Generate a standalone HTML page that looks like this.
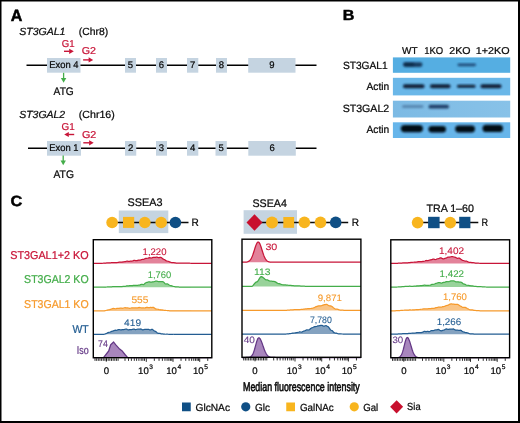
<!DOCTYPE html>
<html><head><meta charset="utf-8"><title>Figure</title>
<style>html,body{margin:0;padding:0;background:#fff;}body{width:520px;height:423px;overflow:hidden;font-family:"Liberation Sans", sans-serif;}svg{display:block;will-change:transform;}</style>
</head><body>
<svg width="520" height="423" viewBox="0 0 520 423" text-rendering="geometricPrecision" font-family='"Liberation Sans", sans-serif'><rect x="0" y="0" width="520" height="1.5" fill="#000"/>
<rect x="0" y="0" width="1.5" height="423" fill="#000"/>
<rect x="518" y="0" width="2" height="423" fill="#000"/>
<rect x="0" y="421" width="520" height="2" fill="#000"/>
<text x="10.80" y="20.80" font-size="16.2" fill="#000" font-weight="bold" font-style="normal" text-anchor="start" textLength="11.60" lengthAdjust="spacingAndGlyphs" stroke="#000" stroke-width="0.5">A</text>
<line x1="26.5" y1="65.2" x2="316.5" y2="65.2" stroke="#000" stroke-width="1.5"/>
<rect x="47" y="58.00" width="33.50" height="14.7" fill="#c5d4e1"/>
<text x="49.20" y="68.20" font-size="9.8" fill="#0a0a0a" font-weight="normal" font-style="normal" text-anchor="start" textLength="29.30" lengthAdjust="spacingAndGlyphs" stroke="#0a0a0a" stroke-width="0.24">Exon 4</text>
<rect x="125" y="58.00" width="11.00" height="14.7" fill="#c5d4e1"/>
<text x="130.50" y="68.30" font-size="9.5" fill="#0a0a0a" font-weight="normal" font-style="normal" text-anchor="middle" stroke="#0a0a0a" stroke-width="0.24">5</text>
<rect x="156" y="58.00" width="11.00" height="14.7" fill="#c5d4e1"/>
<text x="161.50" y="68.30" font-size="9.5" fill="#0a0a0a" font-weight="normal" font-style="normal" text-anchor="middle" stroke="#0a0a0a" stroke-width="0.24">6</text>
<rect x="187" y="58.00" width="11.30" height="14.7" fill="#c5d4e1"/>
<text x="192.65" y="68.30" font-size="9.5" fill="#0a0a0a" font-weight="normal" font-style="normal" text-anchor="middle" stroke="#0a0a0a" stroke-width="0.24">7</text>
<rect x="216" y="58.00" width="11.00" height="14.7" fill="#c5d4e1"/>
<text x="221.50" y="68.30" font-size="9.5" fill="#0a0a0a" font-weight="normal" font-style="normal" text-anchor="middle" stroke="#0a0a0a" stroke-width="0.24">8</text>
<rect x="248.2" y="58.00" width="47.30" height="14.7" fill="#c5d4e1"/>
<text x="271.85" y="68.30" font-size="9.5" fill="#0a0a0a" font-weight="normal" font-style="normal" text-anchor="middle" stroke="#0a0a0a" stroke-width="0.24">9</text>
<text x="19.20" y="34.70" font-size="10.4" fill="#0a0a0a" font-weight="normal" font-style="italic" text-anchor="start" textLength="46.20" lengthAdjust="spacingAndGlyphs" stroke="#0a0a0a" stroke-width="0.24">ST3GAL1</text>
<text x="78.80" y="34.70" font-size="10.4" fill="#0a0a0a" font-weight="normal" font-style="normal" text-anchor="start" textLength="29.30" lengthAdjust="spacingAndGlyphs" stroke="#0a0a0a" stroke-width="0.24">(Chr8)</text>
<line x1="28" y1="148.2" x2="316.5" y2="148.2" stroke="#000" stroke-width="1.5"/>
<rect x="47" y="141.00" width="34.00" height="14.7" fill="#c5d4e1"/>
<text x="49.20" y="151.20" font-size="9.8" fill="#0a0a0a" font-weight="normal" font-style="normal" text-anchor="start" textLength="29.30" lengthAdjust="spacingAndGlyphs" stroke="#0a0a0a" stroke-width="0.24">Exon 1</text>
<rect x="125" y="141.00" width="11.25" height="14.7" fill="#c5d4e1"/>
<text x="130.62" y="151.30" font-size="9.5" fill="#0a0a0a" font-weight="normal" font-style="normal" text-anchor="middle" stroke="#0a0a0a" stroke-width="0.24">2</text>
<rect x="156" y="141.00" width="11.00" height="14.7" fill="#c5d4e1"/>
<text x="161.50" y="151.30" font-size="9.5" fill="#0a0a0a" font-weight="normal" font-style="normal" text-anchor="middle" stroke="#0a0a0a" stroke-width="0.24">3</text>
<rect x="187" y="141.00" width="11.30" height="14.7" fill="#c5d4e1"/>
<text x="192.65" y="151.30" font-size="9.5" fill="#0a0a0a" font-weight="normal" font-style="normal" text-anchor="middle" stroke="#0a0a0a" stroke-width="0.24">4</text>
<rect x="215.5" y="141.00" width="11.30" height="14.7" fill="#c5d4e1"/>
<text x="221.15" y="151.30" font-size="9.5" fill="#0a0a0a" font-weight="normal" font-style="normal" text-anchor="middle" stroke="#0a0a0a" stroke-width="0.24">5</text>
<rect x="248.3" y="141.00" width="47.50" height="14.7" fill="#c5d4e1"/>
<text x="272.05" y="151.30" font-size="9.5" fill="#0a0a0a" font-weight="normal" font-style="normal" text-anchor="middle" stroke="#0a0a0a" stroke-width="0.24">6</text>
<text x="19.20" y="117.70" font-size="10.4" fill="#0a0a0a" font-weight="normal" font-style="italic" text-anchor="start" textLength="46.00" lengthAdjust="spacingAndGlyphs" stroke="#0a0a0a" stroke-width="0.24">ST3GAL2</text>
<text x="78.80" y="117.70" font-size="10.4" fill="#0a0a0a" font-weight="normal" font-style="normal" text-anchor="start" textLength="36.00" lengthAdjust="spacingAndGlyphs" stroke="#0a0a0a" stroke-width="0.24">(Chr16)</text>
<text x="61.70" y="46.50" font-size="10" fill="#c81538" font-weight="normal" font-style="normal" text-anchor="start" textLength="12.80" lengthAdjust="spacingAndGlyphs" stroke="#c81538" stroke-width="0.24">G1</text>
<line x1="64" y1="51.3" x2="69.70" y2="51.30" stroke="#c81538" stroke-width="1.4"/>
<polygon points="73.8,51.3 69.20,53.90 69.20,48.70" fill="#c81538"/>
<text x="81.70" y="54.20" font-size="10" fill="#c81538" font-weight="normal" font-style="normal" text-anchor="start" textLength="14.30" lengthAdjust="spacingAndGlyphs" stroke="#c81538" stroke-width="0.24">G2</text>
<line x1="83.1" y1="59.9" x2="89.10" y2="59.90" stroke="#c81538" stroke-width="1.4"/>
<polygon points="93.2,59.9 88.60,62.50 88.60,57.30" fill="#c81538"/>
<text x="61.60" y="129.70" font-size="10" fill="#c81538" font-weight="normal" font-style="normal" text-anchor="start" textLength="13.20" lengthAdjust="spacingAndGlyphs" stroke="#c81538" stroke-width="0.24">G1</text>
<line x1="74.2" y1="134.5" x2="68.30" y2="134.50" stroke="#c81538" stroke-width="1.4"/>
<polygon points="64.2,134.5 68.80,131.90 68.80,137.10" fill="#c81538"/>
<text x="81.90" y="137.80" font-size="10" fill="#c81538" font-weight="normal" font-style="normal" text-anchor="start" textLength="14.40" lengthAdjust="spacingAndGlyphs" stroke="#c81538" stroke-width="0.24">G2</text>
<line x1="83.3" y1="142.8" x2="89.60" y2="142.80" stroke="#c81538" stroke-width="1.4"/>
<polygon points="93.7,142.8 89.10,145.40 89.10,140.20" fill="#c81538"/>
<line x1="63.6" y1="72.8" x2="63.60" y2="78.50" stroke="#44ad4a" stroke-width="1.3"/>
<polygon points="63.6,82.8 60.90,78.00 66.30,78.00" fill="#44ad4a"/>
<text x="53.60" y="94.90" font-size="11" fill="#0a0a0a" font-weight="normal" font-style="normal" text-anchor="start" textLength="20.20" lengthAdjust="spacingAndGlyphs" stroke="#0a0a0a" stroke-width="0.24">ATG</text>
<line x1="63.2" y1="155.6" x2="63.20" y2="161.00" stroke="#44ad4a" stroke-width="1.3"/>
<polygon points="63.2,165.3 60.50,160.50 65.90,160.50" fill="#44ad4a"/>
<text x="53.50" y="178.20" font-size="11" fill="#0a0a0a" font-weight="normal" font-style="normal" text-anchor="start" textLength="20.40" lengthAdjust="spacingAndGlyphs" stroke="#0a0a0a" stroke-width="0.24">ATG</text>
<text x="342.80" y="20.40" font-size="14.6" fill="#000" font-weight="bold" font-style="normal" text-anchor="start" textLength="11.60" lengthAdjust="spacingAndGlyphs" stroke="#000" stroke-width="0.5">B</text>
<text x="402.00" y="53.50" font-size="10" fill="#0a0a0a" font-weight="normal" font-style="normal" text-anchor="start" textLength="15.50" lengthAdjust="spacingAndGlyphs" stroke="#0a0a0a" stroke-width="0.24">WT</text>
<text x="424.25" y="53.50" font-size="10" fill="#0a0a0a" font-weight="normal" font-style="normal" text-anchor="start" textLength="19.00" lengthAdjust="spacingAndGlyphs" stroke="#0a0a0a" stroke-width="0.24">1KO</text>
<text x="449.25" y="53.50" font-size="10" fill="#0a0a0a" font-weight="normal" font-style="normal" text-anchor="start" textLength="21.25" lengthAdjust="spacingAndGlyphs" stroke="#0a0a0a" stroke-width="0.24">2KO</text>
<text x="475.75" y="53.50" font-size="10" fill="#0a0a0a" font-weight="normal" font-style="normal" text-anchor="start" textLength="33.75" lengthAdjust="spacingAndGlyphs" stroke="#0a0a0a" stroke-width="0.24">1+2KO</text>
<text x="342.90" y="69.00" font-size="10.5" fill="#0a0a0a" font-weight="normal" font-style="normal" text-anchor="start" textLength="44.80" lengthAdjust="spacingAndGlyphs" stroke="#0a0a0a" stroke-width="0.24">ST3GAL1</text>
<text x="366.50" y="89.90" font-size="10.5" fill="#0a0a0a" font-weight="normal" font-style="normal" text-anchor="start" textLength="22.70" lengthAdjust="spacingAndGlyphs" stroke="#0a0a0a" stroke-width="0.24">Actin</text>
<text x="342.70" y="111.50" font-size="10.5" fill="#0a0a0a" font-weight="normal" font-style="normal" text-anchor="start" textLength="46.50" lengthAdjust="spacingAndGlyphs" stroke="#0a0a0a" stroke-width="0.24">ST3GAL2</text>
<text x="366.50" y="132.70" font-size="10.5" fill="#0a0a0a" font-weight="normal" font-style="normal" text-anchor="start" textLength="22.70" lengthAdjust="spacingAndGlyphs" stroke="#0a0a0a" stroke-width="0.24">Actin</text>
<defs><filter id="blur1" x="-20%" y="-50%" width="140%" height="200%"><feGaussianBlur stdDeviation="1.1"/></filter><filter id="blur2" x="-20%" y="-50%" width="140%" height="200%"><feGaussianBlur stdDeviation="0.8"/></filter><linearGradient id="g3" x1="0" x2="1" y1="0" y2="0"><stop offset="0" stop-color="#7cbae4"/><stop offset="0.45" stop-color="#82bee6"/><stop offset="1" stop-color="#88c2e8"/></linearGradient></defs>
<rect x="392.9" y="57.4" width="117.3" height="15.40" fill="#55aee2"/>
<rect x="392.9" y="77.8" width="117.3" height="17.60" fill="#6ab7e8"/>
<rect x="392.9" y="100.7" width="117.3" height="16.80" fill="url(#g3)"/>
<rect x="392.9" y="122.3" width="117.3" height="15.70" fill="#66b5ea"/>
<rect x="403.00" y="62.30" width="19.50" height="4.60" rx="2.30" fill="#102a4c" opacity="0.85" filter="url(#blur1)"/>
<rect x="404.00" y="63.00" width="10.00" height="2.80" rx="1.40" fill="#061a33" opacity="0.55" filter="url(#blur1)"/>
<rect x="457.50" y="63.40" width="18.50" height="2.80" rx="1.40" fill="#123460" opacity="0.8" filter="url(#blur1)"/>
<rect x="403.00" y="84.30" width="21.50" height="4.00" rx="2.00" fill="#08182e" opacity="0.95" filter="url(#blur2)"/>
<rect x="430.00" y="84.30" width="20.50" height="4.00" rx="2.00" fill="#08182e" opacity="0.95" filter="url(#blur2)"/>
<rect x="457.00" y="84.80" width="18.50" height="3.00" rx="1.50" fill="#08182e" opacity="0.95" filter="url(#blur2)"/>
<rect x="480.50" y="84.30" width="21.00" height="4.00" rx="2.00" fill="#08182e" opacity="0.95" filter="url(#blur2)"/>
<rect x="402.00" y="105.10" width="21.50" height="3.00" rx="1.50" fill="#3a5f88" opacity="0.55" filter="url(#blur1)"/>
<rect x="428.50" y="104.80" width="20.50" height="3.80" rx="1.90" fill="#0e2c52" opacity="0.85" filter="url(#blur1)"/>
<rect x="400.80" y="124.90" width="22.20" height="7.40" rx="3.70" fill="#040c18" opacity="1.0" filter="url(#blur2)"/>
<rect x="428.50" y="126.10" width="17.50" height="6.40" rx="3.20" fill="#040c18" opacity="1.0" filter="url(#blur2)"/>
<rect x="455.20" y="125.60" width="19.80" height="6.80" rx="3.40" fill="#040c18" opacity="1.0" filter="url(#blur2)"/>
<rect x="482.50" y="124.70" width="20.50" height="7.40" rx="3.70" fill="#040c18" opacity="1.0" filter="url(#blur2)"/>
<text x="10.50" y="206.30" font-size="14.8" fill="#000" font-weight="bold" font-style="normal" text-anchor="start" textLength="11.80" lengthAdjust="spacingAndGlyphs" stroke="#000" stroke-width="0.5">C</text>
<text x="127.50" y="206.20" font-size="11" fill="#0a0a0a" font-weight="normal" font-style="normal" text-anchor="start" textLength="35.00" lengthAdjust="spacingAndGlyphs" stroke="#0a0a0a" stroke-width="0.24">SSEA3</text>
<text x="252.50" y="207.10" font-size="11" fill="#0a0a0a" font-weight="normal" font-style="normal" text-anchor="start" textLength="34.40" lengthAdjust="spacingAndGlyphs" stroke="#0a0a0a" stroke-width="0.24">SSEA4</text>
<text x="426.40" y="212.10" font-size="10.8" fill="#0a0a0a" font-weight="normal" font-style="normal" text-anchor="start" textLength="47.60" lengthAdjust="spacingAndGlyphs" stroke="#0a0a0a" stroke-width="0.24">TRA 1&#8211;60</text>
<rect x="118.8" y="210.5" width="49.50" height="22.60" fill="#c5d4e1"/>
<line x1="112" y1="222.5" x2="188.5" y2="222.5" stroke="#0a0a0a" stroke-width="1.5"/>
<circle cx="112.1" cy="222.5" r="5.8" fill="#f8b51e"/>
<rect x="123" y="216.9" width="11.20" height="11.00" fill="#f8b51e"/>
<circle cx="144.8" cy="222.5" r="5.8" fill="#f8b51e"/>
<circle cx="161.2" cy="222.5" r="5.8" fill="#f8b51e"/>
<circle cx="175.4" cy="222.5" r="5.8" fill="#0f4f85"/>
<text x="191.60" y="226.10" font-size="10.6" fill="#0a0a0a" font-weight="normal" font-style="normal" text-anchor="start" textLength="7.30" lengthAdjust="spacingAndGlyphs" stroke="#0a0a0a" stroke-width="0.24">R</text>
<rect x="243.6" y="210.2" width="53.40" height="23.60" fill="#c5d4e1"/>
<line x1="254" y1="222.4" x2="348.2" y2="222.4" stroke="#0a0a0a" stroke-width="1.5"/>
<polygon points="246.5,222.5 254.5,214.2 262.5,222.5 254.5,230.8" fill="#c8102e"/>
<circle cx="272" cy="222.5" r="6" fill="#f8b51e"/>
<rect x="283.3" y="217" width="10.80" height="10.80" fill="#f8b51e"/>
<circle cx="304.4" cy="222.4" r="5.8" fill="#f8b51e"/>
<circle cx="320.5" cy="222.4" r="5.8" fill="#f8b51e"/>
<circle cx="335.7" cy="222.4" r="5.8" fill="#0f4f85"/>
<text x="351.80" y="226.00" font-size="10.6" fill="#0a0a0a" font-weight="normal" font-style="normal" text-anchor="start" textLength="7.30" lengthAdjust="spacingAndGlyphs" stroke="#0a0a0a" stroke-width="0.24">R</text>
<line x1="417" y1="222.6" x2="478.3" y2="222.6" stroke="#0a0a0a" stroke-width="1.5"/>
<circle cx="417.6" cy="222.6" r="5.8" fill="#f8b51e"/>
<rect x="428.1" y="216.8" width="11.50" height="11.40" fill="#0f4f85"/>
<circle cx="450.3" cy="222.6" r="5.8" fill="#f8b51e"/>
<rect x="459.2" y="216.8" width="11.20" height="11.40" fill="#0f4f85"/>
<text x="481.60" y="226.20" font-size="10.6" fill="#0a0a0a" font-weight="normal" font-style="normal" text-anchor="start" textLength="6.60" lengthAdjust="spacingAndGlyphs" stroke="#0a0a0a" stroke-width="0.24">R</text>
<text x="10.20" y="259.30" font-size="11.4" fill="#c81538" font-weight="normal" font-style="normal" text-anchor="start" textLength="78.40" lengthAdjust="spacingAndGlyphs" stroke="#c81538" stroke-width="0.24">ST3GAL1+2 KO</text>
<text x="24.10" y="283.20" font-size="11.4" fill="#44ad4a" font-weight="normal" font-style="normal" text-anchor="start" textLength="64.50" lengthAdjust="spacingAndGlyphs" stroke="#44ad4a" stroke-width="0.24">ST3GAL2 KO</text>
<text x="24.10" y="307.60" font-size="11.4" fill="#f69a2c" font-weight="normal" font-style="normal" text-anchor="start" textLength="64.50" lengthAdjust="spacingAndGlyphs" stroke="#f69a2c" stroke-width="0.24">ST3GAL1 KO</text>
<text x="72.40" y="333.20" font-size="11.4" fill="#235d92" font-weight="normal" font-style="normal" text-anchor="start" textLength="16.20" lengthAdjust="spacingAndGlyphs" stroke="#235d92" stroke-width="0.24">WT</text>
<text x="76.70" y="353.60" font-size="11.4" fill="#633785" font-weight="normal" font-style="normal" text-anchor="start" textLength="11.90" lengthAdjust="spacingAndGlyphs" stroke="#633785" stroke-width="0.24">Iso</text>
<path d="M93.30,263.40 L94.04,263.40 L94.78,263.40 L95.52,263.40 L96.26,263.40 L97.00,263.40 L97.74,263.40 L98.48,263.40 L99.22,263.39 L99.97,263.37 L100.71,263.35 L101.45,263.32 L102.19,263.28 L102.93,263.25 L103.67,263.19 L104.41,263.12 L105.15,263.05 L105.89,263.01 L106.63,262.98 L107.37,262.95 L108.11,262.90 L108.85,262.86 L109.59,262.84 L110.33,262.81 L111.08,262.74 L111.82,262.64 L112.56,262.58 L113.30,262.60 L114.04,262.64 L114.78,262.65 L115.52,262.62 L116.26,262.58 L117.00,262.55 L117.74,262.49 L118.48,262.36 L119.22,262.19 L119.96,262.08 L120.70,262.08 L121.44,262.11 L122.18,262.06 L122.93,261.93 L123.67,261.80 L124.41,261.73 L125.15,261.64 L125.89,261.46 L126.63,261.24 L127.37,261.17 L128.11,261.28 L128.85,261.41 L129.59,261.38 L130.33,261.23 L131.07,261.09 L131.81,261.01 L132.55,260.91 L133.29,260.70 L134.03,260.46 L134.78,260.40 L135.52,260.56 L136.26,260.70 L137.00,260.59 L137.74,260.30 L138.48,260.08 L139.22,260.04 L139.96,260.05 L140.70,259.90 L141.44,259.64 L142.18,259.49 L142.92,259.47 L143.66,259.38 L144.40,259.04 L145.14,258.59 L145.88,258.33 L146.62,258.31 L147.37,258.25 L148.11,258.04 L148.85,257.79 L149.59,257.73 L150.33,257.87 L151.07,258.00 L151.81,257.87 L152.55,257.55 L153.29,257.33 L154.03,257.32 L154.77,257.35 L155.51,257.28 L156.25,257.17 L156.99,257.22 L157.73,257.44 L158.48,257.64 L159.22,257.60 L159.96,257.44 L160.70,257.39 L161.44,257.61 L162.18,258.25 L162.92,258.91 L163.66,259.33 L164.40,259.55 L165.14,260.08 L165.88,260.66 L166.62,260.99 L167.36,261.17 L168.10,261.25 L168.84,261.49 L169.58,261.87 L170.32,262.20 L171.07,262.45 L171.81,262.60 L172.55,262.65 L173.29,262.70 L174.03,262.73 L174.77,262.80 L175.51,262.92 L176.25,263.06 L176.99,263.16 L177.73,263.21 L178.47,263.21 L179.21,263.21 L179.95,263.22 L180.69,263.22 L181.43,263.21 L182.18,263.19 L182.92,263.20 L183.66,263.22 L184.40,263.23 L185.14,263.24 L185.88,263.23 L186.62,263.23 L187.36,263.24 L188.10,263.24 L188.84,263.24 L189.58,263.23 L190.32,263.25 L191.06,263.27 L191.80,263.28 L192.54,263.29 L193.28,263.29 L194.03,263.29 L194.77,263.30 L195.51,263.31 L196.25,263.31 L196.99,263.31 L197.73,263.32 L198.47,263.33 L199.21,263.34 L199.95,263.35 L200.69,263.35 L201.43,263.35 L202.17,263.36 L202.91,263.36 L203.65,263.37 L204.39,263.37 L205.13,263.38 L205.88,263.38 L206.62,263.39 L207.36,263.39 L208.10,263.39 L208.84,263.40 L209.58,263.40 L210.32,263.40 L211.06,263.40 L211.80,263.40 L211.80,263.4 L93.30,263.4 Z" fill="#e3829a" stroke="none"/>
<path d="M93.30,263.40 L94.04,263.40 L94.78,263.40 L95.52,263.40 L96.26,263.40 L97.00,263.40 L97.74,263.40 L98.48,263.40 L99.22,263.39 L99.97,263.37 L100.71,263.35 L101.45,263.32 L102.19,263.28 L102.93,263.25 L103.67,263.19 L104.41,263.12 L105.15,263.05 L105.89,263.01 L106.63,262.98 L107.37,262.95 L108.11,262.90 L108.85,262.86 L109.59,262.84 L110.33,262.81 L111.08,262.74 L111.82,262.64 L112.56,262.58 L113.30,262.60 L114.04,262.64 L114.78,262.65 L115.52,262.62 L116.26,262.58 L117.00,262.55 L117.74,262.49 L118.48,262.36 L119.22,262.19 L119.96,262.08 L120.70,262.08 L121.44,262.11 L122.18,262.06 L122.93,261.93 L123.67,261.80 L124.41,261.73 L125.15,261.64 L125.89,261.46 L126.63,261.24 L127.37,261.17 L128.11,261.28 L128.85,261.41 L129.59,261.38 L130.33,261.23 L131.07,261.09 L131.81,261.01 L132.55,260.91 L133.29,260.70 L134.03,260.46 L134.78,260.40 L135.52,260.56 L136.26,260.70 L137.00,260.59 L137.74,260.30 L138.48,260.08 L139.22,260.04 L139.96,260.05 L140.70,259.90 L141.44,259.64 L142.18,259.49 L142.92,259.47 L143.66,259.38 L144.40,259.04 L145.14,258.59 L145.88,258.33 L146.62,258.31 L147.37,258.25 L148.11,258.04 L148.85,257.79 L149.59,257.73 L150.33,257.87 L151.07,258.00 L151.81,257.87 L152.55,257.55 L153.29,257.33 L154.03,257.32 L154.77,257.35 L155.51,257.28 L156.25,257.17 L156.99,257.22 L157.73,257.44 L158.48,257.64 L159.22,257.60 L159.96,257.44 L160.70,257.39 L161.44,257.61 L162.18,258.25 L162.92,258.91 L163.66,259.33 L164.40,259.55 L165.14,260.08 L165.88,260.66 L166.62,260.99 L167.36,261.17 L168.10,261.25 L168.84,261.49 L169.58,261.87 L170.32,262.20 L171.07,262.45 L171.81,262.60 L172.55,262.65 L173.29,262.70 L174.03,262.73 L174.77,262.80 L175.51,262.92 L176.25,263.06 L176.99,263.16 L177.73,263.21 L178.47,263.21 L179.21,263.21 L179.95,263.22 L180.69,263.22 L181.43,263.21 L182.18,263.19 L182.92,263.20 L183.66,263.22 L184.40,263.23 L185.14,263.24 L185.88,263.23 L186.62,263.23 L187.36,263.24 L188.10,263.24 L188.84,263.24 L189.58,263.23 L190.32,263.25 L191.06,263.27 L191.80,263.28 L192.54,263.29 L193.28,263.29 L194.03,263.29 L194.77,263.30 L195.51,263.31 L196.25,263.31 L196.99,263.31 L197.73,263.32 L198.47,263.33 L199.21,263.34 L199.95,263.35 L200.69,263.35 L201.43,263.35 L202.17,263.36 L202.91,263.36 L203.65,263.37 L204.39,263.37 L205.13,263.38 L205.88,263.38 L206.62,263.39 L207.36,263.39 L208.10,263.39 L208.84,263.40 L209.58,263.40 L210.32,263.40 L211.06,263.40 L211.80,263.40" fill="none" stroke="#c81538" stroke-width="1.25" stroke-linejoin="round"/>
<path d="M93.30,287.20 L94.04,287.20 L94.78,287.20 L95.52,287.20 L96.26,287.20 L97.00,287.20 L97.74,287.20 L98.48,287.20 L99.22,287.19 L99.97,287.18 L100.71,287.17 L101.45,287.16 L102.19,287.15 L102.93,287.13 L103.67,287.11 L104.41,287.08 L105.15,287.05 L105.89,287.02 L106.63,287.00 L107.37,286.96 L108.11,286.93 L108.85,286.91 L109.59,286.91 L110.33,286.90 L111.08,286.84 L111.82,286.77 L112.56,286.72 L113.30,286.70 L114.04,286.68 L114.78,286.64 L115.52,286.62 L116.26,286.64 L117.00,286.68 L117.74,286.69 L118.48,286.63 L119.22,286.58 L119.96,286.56 L120.70,286.59 L121.44,286.59 L122.18,286.54 L122.93,286.49 L123.67,286.47 L124.41,286.45 L125.15,286.37 L125.89,286.18 L126.63,285.97 L127.37,285.85 L128.11,285.82 L128.85,285.80 L129.59,285.71 L130.33,285.64 L131.07,285.66 L131.81,285.71 L132.55,285.64 L133.29,285.44 L134.03,285.26 L134.78,285.28 L135.52,285.42 L136.26,285.48 L137.00,285.40 L137.74,285.26 L138.48,285.20 L139.22,285.14 L139.96,284.92 L140.70,284.55 L141.44,284.26 L142.18,284.27 L142.92,284.50 L143.66,284.51 L144.40,284.02 L145.14,283.32 L145.88,282.77 L146.62,282.47 L147.37,282.32 L148.11,282.02 L148.85,281.80 L149.59,281.87 L150.33,282.10 L151.07,282.20 L151.81,282.06 L152.55,281.87 L153.29,281.78 L154.03,281.71 L154.77,281.50 L155.51,281.17 L156.25,281.00 L156.99,281.16 L157.73,281.49 L158.48,281.68 L159.22,281.63 L159.96,281.53 L160.70,281.57 L161.44,281.67 L162.18,281.64 L162.92,281.73 L163.66,282.16 L164.40,282.94 L165.14,283.71 L165.88,284.02 L166.62,283.89 L167.36,283.91 L168.10,284.27 L168.84,284.80 L169.58,285.24 L170.32,285.52 L171.07,285.65 L171.81,285.84 L172.55,286.13 L173.29,286.35 L174.03,286.49 L174.77,286.63 L175.51,286.76 L176.25,286.80 L176.99,286.83 L177.73,286.88 L178.47,286.95 L179.21,287.02 L179.95,287.08 L180.69,287.11 L181.43,287.10 L182.18,287.09 L182.92,287.09 L183.66,287.09 L184.40,287.10 L185.14,287.10 L185.88,287.10 L186.62,287.11 L187.36,287.12 L188.10,287.12 L188.84,287.12 L189.58,287.11 L190.32,287.12 L191.06,287.13 L191.80,287.13 L192.54,287.13 L193.28,287.14 L194.03,287.14 L194.77,287.15 L195.51,287.15 L196.25,287.15 L196.99,287.15 L197.73,287.15 L198.47,287.16 L199.21,287.16 L199.95,287.17 L200.69,287.17 L201.43,287.18 L202.17,287.18 L202.91,287.18 L203.65,287.18 L204.39,287.18 L205.13,287.19 L205.88,287.19 L206.62,287.19 L207.36,287.19 L208.10,287.20 L208.84,287.20 L209.58,287.20 L210.32,287.20 L211.06,287.20 L211.80,287.20 L211.80,287.2 L93.30,287.2 Z" fill="#98d39a" stroke="none"/>
<path d="M93.30,287.20 L94.04,287.20 L94.78,287.20 L95.52,287.20 L96.26,287.20 L97.00,287.20 L97.74,287.20 L98.48,287.20 L99.22,287.19 L99.97,287.18 L100.71,287.17 L101.45,287.16 L102.19,287.15 L102.93,287.13 L103.67,287.11 L104.41,287.08 L105.15,287.05 L105.89,287.02 L106.63,287.00 L107.37,286.96 L108.11,286.93 L108.85,286.91 L109.59,286.91 L110.33,286.90 L111.08,286.84 L111.82,286.77 L112.56,286.72 L113.30,286.70 L114.04,286.68 L114.78,286.64 L115.52,286.62 L116.26,286.64 L117.00,286.68 L117.74,286.69 L118.48,286.63 L119.22,286.58 L119.96,286.56 L120.70,286.59 L121.44,286.59 L122.18,286.54 L122.93,286.49 L123.67,286.47 L124.41,286.45 L125.15,286.37 L125.89,286.18 L126.63,285.97 L127.37,285.85 L128.11,285.82 L128.85,285.80 L129.59,285.71 L130.33,285.64 L131.07,285.66 L131.81,285.71 L132.55,285.64 L133.29,285.44 L134.03,285.26 L134.78,285.28 L135.52,285.42 L136.26,285.48 L137.00,285.40 L137.74,285.26 L138.48,285.20 L139.22,285.14 L139.96,284.92 L140.70,284.55 L141.44,284.26 L142.18,284.27 L142.92,284.50 L143.66,284.51 L144.40,284.02 L145.14,283.32 L145.88,282.77 L146.62,282.47 L147.37,282.32 L148.11,282.02 L148.85,281.80 L149.59,281.87 L150.33,282.10 L151.07,282.20 L151.81,282.06 L152.55,281.87 L153.29,281.78 L154.03,281.71 L154.77,281.50 L155.51,281.17 L156.25,281.00 L156.99,281.16 L157.73,281.49 L158.48,281.68 L159.22,281.63 L159.96,281.53 L160.70,281.57 L161.44,281.67 L162.18,281.64 L162.92,281.73 L163.66,282.16 L164.40,282.94 L165.14,283.71 L165.88,284.02 L166.62,283.89 L167.36,283.91 L168.10,284.27 L168.84,284.80 L169.58,285.24 L170.32,285.52 L171.07,285.65 L171.81,285.84 L172.55,286.13 L173.29,286.35 L174.03,286.49 L174.77,286.63 L175.51,286.76 L176.25,286.80 L176.99,286.83 L177.73,286.88 L178.47,286.95 L179.21,287.02 L179.95,287.08 L180.69,287.11 L181.43,287.10 L182.18,287.09 L182.92,287.09 L183.66,287.09 L184.40,287.10 L185.14,287.10 L185.88,287.10 L186.62,287.11 L187.36,287.12 L188.10,287.12 L188.84,287.12 L189.58,287.11 L190.32,287.12 L191.06,287.13 L191.80,287.13 L192.54,287.13 L193.28,287.14 L194.03,287.14 L194.77,287.15 L195.51,287.15 L196.25,287.15 L196.99,287.15 L197.73,287.15 L198.47,287.16 L199.21,287.16 L199.95,287.17 L200.69,287.17 L201.43,287.18 L202.17,287.18 L202.91,287.18 L203.65,287.18 L204.39,287.18 L205.13,287.19 L205.88,287.19 L206.62,287.19 L207.36,287.19 L208.10,287.20 L208.84,287.20 L209.58,287.20 L210.32,287.20 L211.06,287.20 L211.80,287.20" fill="none" stroke="#44ad4a" stroke-width="1.25" stroke-linejoin="round"/>
<path d="M93.30,310.90 L94.04,310.90 L94.78,310.90 L95.52,310.90 L96.26,310.90 L97.00,310.90 L97.74,310.90 L98.48,310.90 L99.22,310.90 L99.97,310.90 L100.71,310.90 L101.45,310.90 L102.19,310.90 L102.93,310.90 L103.67,310.90 L104.41,310.88 L105.15,310.73 L105.89,310.49 L106.63,310.24 L107.37,310.05 L108.11,309.89 L108.85,309.74 L109.59,309.59 L110.33,309.37 L111.08,309.13 L111.82,308.86 L112.56,308.57 L113.30,308.41 L114.04,308.52 L114.78,308.71 L115.52,308.76 L116.26,308.60 L117.00,308.38 L117.74,308.28 L118.48,308.28 L119.22,308.26 L119.96,308.15 L120.70,308.08 L121.44,308.14 L122.18,308.26 L122.93,308.22 L123.67,307.98 L124.41,307.75 L125.15,307.71 L125.89,307.84 L126.63,307.95 L127.37,307.96 L128.11,307.99 L128.85,308.13 L129.59,308.28 L130.33,308.25 L131.07,308.02 L131.81,307.78 L132.55,307.75 L133.29,307.88 L134.03,307.96 L134.78,307.92 L135.52,307.86 L136.26,307.91 L137.00,307.98 L137.74,307.90 L138.48,307.66 L139.22,307.47 L139.96,307.52 L140.70,307.74 L141.44,307.91 L142.18,307.93 L142.92,307.91 L143.66,307.96 L144.40,307.99 L145.14,307.85 L145.88,307.55 L146.62,307.32 L147.37,307.35 L148.11,307.54 L148.85,307.66 L149.59,307.60 L150.33,307.49 L151.07,307.48 L151.81,307.51 L152.55,307.43 L153.29,307.36 L154.03,307.68 L154.77,308.35 L155.51,308.95 L156.25,309.17 L156.99,309.20 L157.73,309.25 L158.48,309.41 L159.22,309.60 L159.96,309.74 L160.70,309.83 L161.44,309.91 L162.18,309.98 L162.92,310.11 L163.66,310.24 L164.40,310.34 L165.14,310.43 L165.88,310.48 L166.62,310.50 L167.36,310.55 L168.10,310.61 L168.84,310.70 L169.58,310.78 L170.32,310.84 L171.07,310.86 L171.81,310.85 L172.55,310.85 L173.29,310.85 L174.03,310.85 L174.77,310.85 L175.51,310.85 L176.25,310.85 L176.99,310.85 L177.73,310.86 L178.47,310.86 L179.21,310.86 L179.95,310.85 L180.69,310.85 L181.43,310.86 L182.18,310.86 L182.92,310.86 L183.66,310.86 L184.40,310.86 L185.14,310.87 L185.88,310.87 L186.62,310.87 L187.36,310.87 L188.10,310.87 L188.84,310.87 L189.58,310.87 L190.32,310.87 L191.06,310.87 L191.80,310.88 L192.54,310.88 L193.28,310.88 L194.03,310.88 L194.77,310.88 L195.51,310.88 L196.25,310.88 L196.99,310.89 L197.73,310.89 L198.47,310.89 L199.21,310.89 L199.95,310.89 L200.69,310.89 L201.43,310.89 L202.17,310.89 L202.91,310.89 L203.65,310.89 L204.39,310.90 L205.13,310.90 L205.88,310.90 L206.62,310.90 L207.36,310.90 L208.10,310.90 L208.84,310.90 L209.58,310.90 L210.32,310.90 L211.06,310.90 L211.80,310.90 L211.80,310.9 L93.30,310.9 Z" fill="#f9c486" stroke="none"/>
<path d="M93.30,310.90 L94.04,310.90 L94.78,310.90 L95.52,310.90 L96.26,310.90 L97.00,310.90 L97.74,310.90 L98.48,310.90 L99.22,310.90 L99.97,310.90 L100.71,310.90 L101.45,310.90 L102.19,310.90 L102.93,310.90 L103.67,310.90 L104.41,310.88 L105.15,310.73 L105.89,310.49 L106.63,310.24 L107.37,310.05 L108.11,309.89 L108.85,309.74 L109.59,309.59 L110.33,309.37 L111.08,309.13 L111.82,308.86 L112.56,308.57 L113.30,308.41 L114.04,308.52 L114.78,308.71 L115.52,308.76 L116.26,308.60 L117.00,308.38 L117.74,308.28 L118.48,308.28 L119.22,308.26 L119.96,308.15 L120.70,308.08 L121.44,308.14 L122.18,308.26 L122.93,308.22 L123.67,307.98 L124.41,307.75 L125.15,307.71 L125.89,307.84 L126.63,307.95 L127.37,307.96 L128.11,307.99 L128.85,308.13 L129.59,308.28 L130.33,308.25 L131.07,308.02 L131.81,307.78 L132.55,307.75 L133.29,307.88 L134.03,307.96 L134.78,307.92 L135.52,307.86 L136.26,307.91 L137.00,307.98 L137.74,307.90 L138.48,307.66 L139.22,307.47 L139.96,307.52 L140.70,307.74 L141.44,307.91 L142.18,307.93 L142.92,307.91 L143.66,307.96 L144.40,307.99 L145.14,307.85 L145.88,307.55 L146.62,307.32 L147.37,307.35 L148.11,307.54 L148.85,307.66 L149.59,307.60 L150.33,307.49 L151.07,307.48 L151.81,307.51 L152.55,307.43 L153.29,307.36 L154.03,307.68 L154.77,308.35 L155.51,308.95 L156.25,309.17 L156.99,309.20 L157.73,309.25 L158.48,309.41 L159.22,309.60 L159.96,309.74 L160.70,309.83 L161.44,309.91 L162.18,309.98 L162.92,310.11 L163.66,310.24 L164.40,310.34 L165.14,310.43 L165.88,310.48 L166.62,310.50 L167.36,310.55 L168.10,310.61 L168.84,310.70 L169.58,310.78 L170.32,310.84 L171.07,310.86 L171.81,310.85 L172.55,310.85 L173.29,310.85 L174.03,310.85 L174.77,310.85 L175.51,310.85 L176.25,310.85 L176.99,310.85 L177.73,310.86 L178.47,310.86 L179.21,310.86 L179.95,310.85 L180.69,310.85 L181.43,310.86 L182.18,310.86 L182.92,310.86 L183.66,310.86 L184.40,310.86 L185.14,310.87 L185.88,310.87 L186.62,310.87 L187.36,310.87 L188.10,310.87 L188.84,310.87 L189.58,310.87 L190.32,310.87 L191.06,310.87 L191.80,310.88 L192.54,310.88 L193.28,310.88 L194.03,310.88 L194.77,310.88 L195.51,310.88 L196.25,310.88 L196.99,310.89 L197.73,310.89 L198.47,310.89 L199.21,310.89 L199.95,310.89 L200.69,310.89 L201.43,310.89 L202.17,310.89 L202.91,310.89 L203.65,310.89 L204.39,310.90 L205.13,310.90 L205.88,310.90 L206.62,310.90 L207.36,310.90 L208.10,310.90 L208.84,310.90 L209.58,310.90 L210.32,310.90 L211.06,310.90 L211.80,310.90" fill="none" stroke="#f69a2c" stroke-width="1.25" stroke-linejoin="round"/>
<path d="M93.30,334.30 L94.04,334.30 L94.78,334.30 L95.52,334.30 L96.26,334.30 L97.00,334.30 L97.74,334.30 L98.48,334.30 L99.22,334.30 L99.97,334.30 L100.71,334.30 L101.45,334.30 L102.19,334.30 L102.93,334.30 L103.67,334.29 L104.41,334.16 L105.15,333.93 L105.89,333.66 L106.63,333.32 L107.37,332.94 L108.11,332.63 L108.85,332.45 L109.59,332.26 L110.33,332.00 L111.08,331.65 L111.82,331.29 L112.56,331.09 L113.30,330.93 L114.04,330.60 L114.78,330.27 L115.52,330.22 L116.26,330.32 L117.00,330.25 L117.74,329.93 L118.48,329.60 L119.22,329.53 L119.96,329.72 L120.70,329.88 L121.44,329.81 L122.18,329.61 L122.93,329.52 L123.67,329.54 L124.41,329.47 L125.15,329.24 L125.89,329.06 L126.63,329.18 L127.37,329.53 L128.11,329.81 L128.85,329.81 L129.59,329.65 L130.33,329.58 L131.07,329.59 L131.81,329.52 L132.55,329.27 L133.29,329.08 L134.03,329.16 L134.78,329.45 L135.52,329.62 L136.26,329.50 L137.00,329.25 L137.74,329.13 L138.48,329.16 L139.22,329.16 L139.96,329.04 L140.70,328.99 L141.44,329.21 L142.18,329.60 L142.92,329.82 L143.66,329.73 L144.40,329.49 L145.14,329.38 L145.88,329.44 L146.62,329.47 L147.37,329.37 L148.11,329.31 L148.85,329.48 L149.59,329.77 L150.33,329.88 L151.07,329.67 L151.81,329.37 L152.55,329.49 L153.29,330.13 L154.03,330.80 L154.77,331.15 L155.51,331.31 L156.25,331.93 L156.99,332.67 L157.73,333.18 L158.48,333.36 L159.22,333.31 L159.96,333.44 L160.70,333.67 L161.44,333.85 L162.18,333.90 L162.92,333.94 L163.66,334.03 L164.40,334.14 L165.14,334.21 L165.88,334.25 L166.62,334.24 L167.36,334.24 L168.10,334.25 L168.84,334.25 L169.58,334.25 L170.32,334.25 L171.07,334.26 L171.81,334.26 L172.55,334.26 L173.29,334.25 L174.03,334.25 L174.77,334.25 L175.51,334.25 L176.25,334.26 L176.99,334.26 L177.73,334.26 L178.47,334.26 L179.21,334.26 L179.95,334.26 L180.69,334.26 L181.43,334.26 L182.18,334.26 L182.92,334.27 L183.66,334.27 L184.40,334.27 L185.14,334.27 L185.88,334.27 L186.62,334.27 L187.36,334.27 L188.10,334.27 L188.84,334.27 L189.58,334.27 L190.32,334.28 L191.06,334.28 L191.80,334.28 L192.54,334.28 L193.28,334.28 L194.03,334.28 L194.77,334.28 L195.51,334.28 L196.25,334.28 L196.99,334.29 L197.73,334.29 L198.47,334.29 L199.21,334.29 L199.95,334.29 L200.69,334.29 L201.43,334.29 L202.17,334.29 L202.91,334.29 L203.65,334.30 L204.39,334.30 L205.13,334.30 L205.88,334.30 L206.62,334.30 L207.36,334.30 L208.10,334.30 L208.84,334.30 L209.58,334.30 L210.32,334.30 L211.06,334.30 L211.80,334.30 L211.80,334.3 L93.30,334.3 Z" fill="#84a2c0" stroke="none"/>
<path d="M93.30,334.30 L94.04,334.30 L94.78,334.30 L95.52,334.30 L96.26,334.30 L97.00,334.30 L97.74,334.30 L98.48,334.30 L99.22,334.30 L99.97,334.30 L100.71,334.30 L101.45,334.30 L102.19,334.30 L102.93,334.30 L103.67,334.29 L104.41,334.16 L105.15,333.93 L105.89,333.66 L106.63,333.32 L107.37,332.94 L108.11,332.63 L108.85,332.45 L109.59,332.26 L110.33,332.00 L111.08,331.65 L111.82,331.29 L112.56,331.09 L113.30,330.93 L114.04,330.60 L114.78,330.27 L115.52,330.22 L116.26,330.32 L117.00,330.25 L117.74,329.93 L118.48,329.60 L119.22,329.53 L119.96,329.72 L120.70,329.88 L121.44,329.81 L122.18,329.61 L122.93,329.52 L123.67,329.54 L124.41,329.47 L125.15,329.24 L125.89,329.06 L126.63,329.18 L127.37,329.53 L128.11,329.81 L128.85,329.81 L129.59,329.65 L130.33,329.58 L131.07,329.59 L131.81,329.52 L132.55,329.27 L133.29,329.08 L134.03,329.16 L134.78,329.45 L135.52,329.62 L136.26,329.50 L137.00,329.25 L137.74,329.13 L138.48,329.16 L139.22,329.16 L139.96,329.04 L140.70,328.99 L141.44,329.21 L142.18,329.60 L142.92,329.82 L143.66,329.73 L144.40,329.49 L145.14,329.38 L145.88,329.44 L146.62,329.47 L147.37,329.37 L148.11,329.31 L148.85,329.48 L149.59,329.77 L150.33,329.88 L151.07,329.67 L151.81,329.37 L152.55,329.49 L153.29,330.13 L154.03,330.80 L154.77,331.15 L155.51,331.31 L156.25,331.93 L156.99,332.67 L157.73,333.18 L158.48,333.36 L159.22,333.31 L159.96,333.44 L160.70,333.67 L161.44,333.85 L162.18,333.90 L162.92,333.94 L163.66,334.03 L164.40,334.14 L165.14,334.21 L165.88,334.25 L166.62,334.24 L167.36,334.24 L168.10,334.25 L168.84,334.25 L169.58,334.25 L170.32,334.25 L171.07,334.26 L171.81,334.26 L172.55,334.26 L173.29,334.25 L174.03,334.25 L174.77,334.25 L175.51,334.25 L176.25,334.26 L176.99,334.26 L177.73,334.26 L178.47,334.26 L179.21,334.26 L179.95,334.26 L180.69,334.26 L181.43,334.26 L182.18,334.26 L182.92,334.27 L183.66,334.27 L184.40,334.27 L185.14,334.27 L185.88,334.27 L186.62,334.27 L187.36,334.27 L188.10,334.27 L188.84,334.27 L189.58,334.27 L190.32,334.28 L191.06,334.28 L191.80,334.28 L192.54,334.28 L193.28,334.28 L194.03,334.28 L194.77,334.28 L195.51,334.28 L196.25,334.28 L196.99,334.29 L197.73,334.29 L198.47,334.29 L199.21,334.29 L199.95,334.29 L200.69,334.29 L201.43,334.29 L202.17,334.29 L202.91,334.29 L203.65,334.30 L204.39,334.30 L205.13,334.30 L205.88,334.30 L206.62,334.30 L207.36,334.30 L208.10,334.30 L208.84,334.30 L209.58,334.30 L210.32,334.30 L211.06,334.30 L211.80,334.30" fill="none" stroke="#235d92" stroke-width="1.25" stroke-linejoin="round"/>
<path d="M93.30,357.60 L103.50,357.60 L108.70,351.00 L110.70,344.70 L113.60,342.00 L115.60,344.70 L119.00,348.40 L122.50,351.30 L125.40,355.00 L127.70,357.60 L211.80,357.60 L211.80,357.6 L93.30,357.6 Z" fill="#a886bd" stroke="none"/>
<path d="M93.30,357.60 L103.50,357.60 L108.70,351.00 L110.70,344.70 L113.60,342.00 L115.60,344.70 L119.00,348.40 L122.50,351.30 L125.40,355.00 L127.70,357.60 L211.80,357.60" fill="none" stroke="#633785" stroke-width="1.25" stroke-linejoin="round"/>
<path d="M242.00,262.20 L242.50,262.20 L243.00,262.19 L243.50,262.19 L244.00,262.18 L244.50,262.17 L245.00,262.15 L245.50,262.12 L246.00,262.08 L246.50,262.02 L247.00,261.94 L247.50,261.82 L248.00,261.65 L248.50,261.42 L249.00,261.12 L249.50,260.73 L250.00,260.23 L250.50,259.61 L251.00,258.84 L251.50,257.93 L252.00,256.86 L252.50,255.64 L253.00,254.28 L253.50,252.80 L254.00,251.23 L254.50,249.63 L255.00,248.03 L255.50,246.51 L256.00,245.12 L256.50,243.92 L257.00,242.98 L257.50,242.34 L258.00,242.03 L258.50,242.06 L259.00,242.44 L259.50,243.15 L260.00,244.14 L260.50,245.38 L261.00,246.80 L261.50,248.35 L262.00,249.95 L262.50,251.55 L263.00,253.10 L263.50,254.56 L264.00,255.90 L264.50,257.09 L265.00,258.13 L265.50,259.01 L266.00,259.74 L266.50,260.34 L267.00,260.82 L267.50,261.19 L268.00,261.47 L268.50,261.69 L269.00,261.84 L269.50,261.96 L270.00,262.04 L270.50,262.09 L271.00,262.13 L271.50,262.16 L272.00,262.17 L272.50,262.18 L273.00,262.19 L273.50,262.19 L274.00,262.20 L274.50,262.20 L275.00,262.20 L275.50,262.20 L276.00,262.20 L276.50,262.20 L277.00,262.20 L277.50,262.20 L278.00,262.20 L278.50,262.20 L279.00,262.20 L279.50,262.20 L280.00,262.20 L280.50,262.20 L281.00,262.20 L281.50,262.20 L282.00,262.20 L282.50,262.20 L283.00,262.20 L283.50,262.20 L284.00,262.20 L284.50,262.20 L285.00,262.20 L285.50,262.20 L286.00,262.20 L286.50,262.20 L287.00,262.20 L287.50,262.20 L288.00,262.20 L288.50,262.20 L289.00,262.20 L289.50,262.20 L290.00,262.20 L290.50,262.20 L291.00,262.20 L291.50,262.20 L292.00,262.20 L292.50,262.20 L293.00,262.20 L293.50,262.20 L294.00,262.20 L294.50,262.20 L295.00,262.20 L295.50,262.20 L296.00,262.20 L296.50,262.20 L297.00,262.20 L297.50,262.20 L298.00,262.20 L298.50,262.20 L299.00,262.20 L299.50,262.20 L300.00,262.20 L300.50,262.20 L301.00,262.20 L301.50,262.20 L302.00,262.20 L302.50,262.20 L303.00,262.20 L303.50,262.20 L304.00,262.20 L304.50,262.20 L305.00,262.20 L305.50,262.20 L306.00,262.20 L306.50,262.20 L307.00,262.20 L307.50,262.20 L308.00,262.20 L308.50,262.20 L309.00,262.20 L309.50,262.20 L310.00,262.20 L310.50,262.20 L311.00,262.20 L311.50,262.20 L312.00,262.20 L312.50,262.20 L313.00,262.20 L313.50,262.20 L314.00,262.20 L314.50,262.20 L315.00,262.20 L315.50,262.20 L316.00,262.20 L316.50,262.20 L317.00,262.20 L317.50,262.20 L318.00,262.20 L318.50,262.20 L319.00,262.20 L319.50,262.20 L320.00,262.20 L320.50,262.20 L321.00,262.20 L321.50,262.20 L322.00,262.20 L322.50,262.20 L323.00,262.20 L323.50,262.20 L324.00,262.20 L324.50,262.20 L325.00,262.20 L325.50,262.20 L326.00,262.20 L326.50,262.20 L327.00,262.20 L327.50,262.20 L328.00,262.20 L328.50,262.20 L329.00,262.20 L329.50,262.20 L330.00,262.20 L330.50,262.20 L331.00,262.20 L331.50,262.20 L332.00,262.20 L332.50,262.20 L333.00,262.20 L333.50,262.20 L334.00,262.20 L334.50,262.20 L335.00,262.20 L335.50,262.20 L336.00,262.20 L336.50,262.20 L337.00,262.20 L337.50,262.20 L338.00,262.20 L338.50,262.20 L339.00,262.20 L339.50,262.20 L340.00,262.20 L340.50,262.20 L341.00,262.20 L341.50,262.20 L342.00,262.20 L342.50,262.20 L343.00,262.20 L343.50,262.20 L344.00,262.20 L344.50,262.20 L345.00,262.20 L345.50,262.20 L346.00,262.20 L346.50,262.20 L347.00,262.20 L347.50,262.20 L348.00,262.20 L348.50,262.20 L349.00,262.20 L349.50,262.20 L350.00,262.20 L350.50,262.20 L351.00,262.20 L351.50,262.20 L352.00,262.20 L352.50,262.20 L353.00,262.20 L353.50,262.20 L354.00,262.20 L354.50,262.20 L355.00,262.20 L355.50,262.20 L356.00,262.20 L356.50,262.20 L357.00,262.20 L357.50,262.20 L358.00,262.20 L358.50,262.20 L359.00,262.20 L359.50,262.20 L360.00,262.20 L360.90,262.20 L360.90,262.2 L242.00,262.2 Z" fill="#e3829a" stroke="none"/>
<path d="M242.00,262.20 L242.50,262.20 L243.00,262.19 L243.50,262.19 L244.00,262.18 L244.50,262.17 L245.00,262.15 L245.50,262.12 L246.00,262.08 L246.50,262.02 L247.00,261.94 L247.50,261.82 L248.00,261.65 L248.50,261.42 L249.00,261.12 L249.50,260.73 L250.00,260.23 L250.50,259.61 L251.00,258.84 L251.50,257.93 L252.00,256.86 L252.50,255.64 L253.00,254.28 L253.50,252.80 L254.00,251.23 L254.50,249.63 L255.00,248.03 L255.50,246.51 L256.00,245.12 L256.50,243.92 L257.00,242.98 L257.50,242.34 L258.00,242.03 L258.50,242.06 L259.00,242.44 L259.50,243.15 L260.00,244.14 L260.50,245.38 L261.00,246.80 L261.50,248.35 L262.00,249.95 L262.50,251.55 L263.00,253.10 L263.50,254.56 L264.00,255.90 L264.50,257.09 L265.00,258.13 L265.50,259.01 L266.00,259.74 L266.50,260.34 L267.00,260.82 L267.50,261.19 L268.00,261.47 L268.50,261.69 L269.00,261.84 L269.50,261.96 L270.00,262.04 L270.50,262.09 L271.00,262.13 L271.50,262.16 L272.00,262.17 L272.50,262.18 L273.00,262.19 L273.50,262.19 L274.00,262.20 L274.50,262.20 L275.00,262.20 L275.50,262.20 L276.00,262.20 L276.50,262.20 L277.00,262.20 L277.50,262.20 L278.00,262.20 L278.50,262.20 L279.00,262.20 L279.50,262.20 L280.00,262.20 L280.50,262.20 L281.00,262.20 L281.50,262.20 L282.00,262.20 L282.50,262.20 L283.00,262.20 L283.50,262.20 L284.00,262.20 L284.50,262.20 L285.00,262.20 L285.50,262.20 L286.00,262.20 L286.50,262.20 L287.00,262.20 L287.50,262.20 L288.00,262.20 L288.50,262.20 L289.00,262.20 L289.50,262.20 L290.00,262.20 L290.50,262.20 L291.00,262.20 L291.50,262.20 L292.00,262.20 L292.50,262.20 L293.00,262.20 L293.50,262.20 L294.00,262.20 L294.50,262.20 L295.00,262.20 L295.50,262.20 L296.00,262.20 L296.50,262.20 L297.00,262.20 L297.50,262.20 L298.00,262.20 L298.50,262.20 L299.00,262.20 L299.50,262.20 L300.00,262.20 L300.50,262.20 L301.00,262.20 L301.50,262.20 L302.00,262.20 L302.50,262.20 L303.00,262.20 L303.50,262.20 L304.00,262.20 L304.50,262.20 L305.00,262.20 L305.50,262.20 L306.00,262.20 L306.50,262.20 L307.00,262.20 L307.50,262.20 L308.00,262.20 L308.50,262.20 L309.00,262.20 L309.50,262.20 L310.00,262.20 L310.50,262.20 L311.00,262.20 L311.50,262.20 L312.00,262.20 L312.50,262.20 L313.00,262.20 L313.50,262.20 L314.00,262.20 L314.50,262.20 L315.00,262.20 L315.50,262.20 L316.00,262.20 L316.50,262.20 L317.00,262.20 L317.50,262.20 L318.00,262.20 L318.50,262.20 L319.00,262.20 L319.50,262.20 L320.00,262.20 L320.50,262.20 L321.00,262.20 L321.50,262.20 L322.00,262.20 L322.50,262.20 L323.00,262.20 L323.50,262.20 L324.00,262.20 L324.50,262.20 L325.00,262.20 L325.50,262.20 L326.00,262.20 L326.50,262.20 L327.00,262.20 L327.50,262.20 L328.00,262.20 L328.50,262.20 L329.00,262.20 L329.50,262.20 L330.00,262.20 L330.50,262.20 L331.00,262.20 L331.50,262.20 L332.00,262.20 L332.50,262.20 L333.00,262.20 L333.50,262.20 L334.00,262.20 L334.50,262.20 L335.00,262.20 L335.50,262.20 L336.00,262.20 L336.50,262.20 L337.00,262.20 L337.50,262.20 L338.00,262.20 L338.50,262.20 L339.00,262.20 L339.50,262.20 L340.00,262.20 L340.50,262.20 L341.00,262.20 L341.50,262.20 L342.00,262.20 L342.50,262.20 L343.00,262.20 L343.50,262.20 L344.00,262.20 L344.50,262.20 L345.00,262.20 L345.50,262.20 L346.00,262.20 L346.50,262.20 L347.00,262.20 L347.50,262.20 L348.00,262.20 L348.50,262.20 L349.00,262.20 L349.50,262.20 L350.00,262.20 L350.50,262.20 L351.00,262.20 L351.50,262.20 L352.00,262.20 L352.50,262.20 L353.00,262.20 L353.50,262.20 L354.00,262.20 L354.50,262.20 L355.00,262.20 L355.50,262.20 L356.00,262.20 L356.50,262.20 L357.00,262.20 L357.50,262.20 L358.00,262.20 L358.50,262.20 L359.00,262.20 L359.50,262.20 L360.00,262.20 L360.90,262.20" fill="none" stroke="#c81538" stroke-width="1.25" stroke-linejoin="round"/>
<path d="M242.00,286.40 L242.74,286.40 L243.49,286.40 L244.23,286.40 L244.97,286.40 L245.72,286.40 L246.46,286.40 L247.20,286.40 L247.94,286.40 L248.69,286.40 L249.43,286.40 L250.17,286.40 L250.92,286.40 L251.66,286.39 L252.40,286.06 L253.15,285.35 L253.89,284.44 L254.63,283.51 L255.38,282.67 L256.12,282.08 L256.86,281.90 L257.61,281.38 L258.35,280.42 L259.09,279.17 L259.83,277.88 L260.58,276.93 L261.32,276.66 L262.06,276.90 L262.81,277.35 L263.55,277.91 L264.29,278.56 L265.04,279.24 L265.78,279.78 L266.52,279.96 L267.27,279.96 L268.01,280.18 L268.75,280.58 L269.50,280.99 L270.24,281.21 L270.98,281.20 L271.73,281.22 L272.47,281.32 L273.21,281.41 L273.95,281.44 L274.70,281.57 L275.44,281.88 L276.18,282.37 L276.93,282.90 L277.67,283.33 L278.41,283.57 L279.16,283.65 L279.90,283.86 L280.64,284.15 L281.39,284.40 L282.13,284.59 L282.87,284.76 L283.62,284.84 L284.36,284.88 L285.10,284.93 L285.84,284.97 L286.59,285.03 L287.33,285.13 L288.07,285.22 L288.82,285.27 L289.56,285.31 L290.30,285.38 L291.05,285.48 L291.79,285.59 L292.53,285.67 L293.28,285.72 L294.02,285.76 L294.76,285.80 L295.50,285.82 L296.25,285.80 L296.99,285.79 L297.73,285.81 L298.48,285.86 L299.22,285.92 L299.96,285.97 L300.71,286.02 L301.45,286.07 L302.19,286.12 L302.94,286.17 L303.68,286.21 L304.42,286.24 L305.17,286.27 L305.91,286.29 L306.65,286.30 L307.39,286.30 L308.14,286.30 L308.88,286.30 L309.62,286.30 L310.37,286.30 L311.11,286.30 L311.85,286.30 L312.60,286.30 L313.34,286.30 L314.08,286.31 L314.83,286.31 L315.57,286.31 L316.31,286.31 L317.06,286.31 L317.80,286.31 L318.54,286.31 L319.28,286.31 L320.03,286.31 L320.77,286.32 L321.51,286.32 L322.26,286.32 L323.00,286.32 L323.74,286.32 L324.49,286.32 L325.23,286.33 L325.97,286.33 L326.72,286.33 L327.46,286.33 L328.20,286.34 L328.95,286.34 L329.69,286.34 L330.43,286.34 L331.17,286.34 L331.92,286.34 L332.66,286.35 L333.40,286.35 L334.15,286.35 L334.89,286.35 L335.63,286.36 L336.38,286.36 L337.12,286.36 L337.86,286.36 L338.61,286.36 L339.35,286.36 L340.09,286.37 L340.84,286.37 L341.58,286.37 L342.32,286.37 L343.06,286.38 L343.81,286.38 L344.55,286.38 L345.29,286.38 L346.04,286.38 L346.78,286.38 L347.52,286.39 L348.27,286.39 L349.01,286.39 L349.75,286.39 L350.50,286.39 L351.24,286.39 L351.98,286.39 L352.73,286.39 L353.47,286.39 L354.21,286.40 L354.95,286.40 L355.70,286.40 L356.44,286.40 L357.18,286.40 L357.93,286.40 L358.67,286.40 L359.41,286.40 L360.16,286.40 L360.90,286.40 L360.90,286.4 L242.00,286.4 Z" fill="#98d39a" stroke="none"/>
<path d="M242.00,286.40 L242.74,286.40 L243.49,286.40 L244.23,286.40 L244.97,286.40 L245.72,286.40 L246.46,286.40 L247.20,286.40 L247.94,286.40 L248.69,286.40 L249.43,286.40 L250.17,286.40 L250.92,286.40 L251.66,286.39 L252.40,286.06 L253.15,285.35 L253.89,284.44 L254.63,283.51 L255.38,282.67 L256.12,282.08 L256.86,281.90 L257.61,281.38 L258.35,280.42 L259.09,279.17 L259.83,277.88 L260.58,276.93 L261.32,276.66 L262.06,276.90 L262.81,277.35 L263.55,277.91 L264.29,278.56 L265.04,279.24 L265.78,279.78 L266.52,279.96 L267.27,279.96 L268.01,280.18 L268.75,280.58 L269.50,280.99 L270.24,281.21 L270.98,281.20 L271.73,281.22 L272.47,281.32 L273.21,281.41 L273.95,281.44 L274.70,281.57 L275.44,281.88 L276.18,282.37 L276.93,282.90 L277.67,283.33 L278.41,283.57 L279.16,283.65 L279.90,283.86 L280.64,284.15 L281.39,284.40 L282.13,284.59 L282.87,284.76 L283.62,284.84 L284.36,284.88 L285.10,284.93 L285.84,284.97 L286.59,285.03 L287.33,285.13 L288.07,285.22 L288.82,285.27 L289.56,285.31 L290.30,285.38 L291.05,285.48 L291.79,285.59 L292.53,285.67 L293.28,285.72 L294.02,285.76 L294.76,285.80 L295.50,285.82 L296.25,285.80 L296.99,285.79 L297.73,285.81 L298.48,285.86 L299.22,285.92 L299.96,285.97 L300.71,286.02 L301.45,286.07 L302.19,286.12 L302.94,286.17 L303.68,286.21 L304.42,286.24 L305.17,286.27 L305.91,286.29 L306.65,286.30 L307.39,286.30 L308.14,286.30 L308.88,286.30 L309.62,286.30 L310.37,286.30 L311.11,286.30 L311.85,286.30 L312.60,286.30 L313.34,286.30 L314.08,286.31 L314.83,286.31 L315.57,286.31 L316.31,286.31 L317.06,286.31 L317.80,286.31 L318.54,286.31 L319.28,286.31 L320.03,286.31 L320.77,286.32 L321.51,286.32 L322.26,286.32 L323.00,286.32 L323.74,286.32 L324.49,286.32 L325.23,286.33 L325.97,286.33 L326.72,286.33 L327.46,286.33 L328.20,286.34 L328.95,286.34 L329.69,286.34 L330.43,286.34 L331.17,286.34 L331.92,286.34 L332.66,286.35 L333.40,286.35 L334.15,286.35 L334.89,286.35 L335.63,286.36 L336.38,286.36 L337.12,286.36 L337.86,286.36 L338.61,286.36 L339.35,286.36 L340.09,286.37 L340.84,286.37 L341.58,286.37 L342.32,286.37 L343.06,286.38 L343.81,286.38 L344.55,286.38 L345.29,286.38 L346.04,286.38 L346.78,286.38 L347.52,286.39 L348.27,286.39 L349.01,286.39 L349.75,286.39 L350.50,286.39 L351.24,286.39 L351.98,286.39 L352.73,286.39 L353.47,286.39 L354.21,286.40 L354.95,286.40 L355.70,286.40 L356.44,286.40 L357.18,286.40 L357.93,286.40 L358.67,286.40 L359.41,286.40 L360.16,286.40 L360.90,286.40" fill="none" stroke="#44ad4a" stroke-width="1.25" stroke-linejoin="round"/>
<path d="M242.00,310.40 L242.74,310.40 L243.49,310.40 L244.23,310.40 L244.97,310.40 L245.72,310.40 L246.46,310.40 L247.20,310.40 L247.94,310.40 L248.69,310.40 L249.43,310.40 L250.17,310.40 L250.92,310.40 L251.66,310.40 L252.40,310.40 L253.15,310.40 L253.89,310.40 L254.63,310.40 L255.38,310.40 L256.12,310.40 L256.86,310.40 L257.61,310.40 L258.35,310.40 L259.09,310.40 L259.83,310.40 L260.58,310.40 L261.32,310.40 L262.06,310.40 L262.81,310.40 L263.55,310.40 L264.29,310.40 L265.04,310.40 L265.78,310.40 L266.52,310.40 L267.27,310.40 L268.01,310.40 L268.75,310.40 L269.50,310.40 L270.24,310.40 L270.98,310.40 L271.73,310.40 L272.47,310.40 L273.21,310.40 L273.95,310.40 L274.70,310.40 L275.44,310.40 L276.18,310.40 L276.93,310.40 L277.67,310.40 L278.41,310.40 L279.16,310.40 L279.90,310.40 L280.64,310.40 L281.39,310.40 L282.13,310.40 L282.87,310.39 L283.62,310.38 L284.36,310.36 L285.10,310.33 L285.84,310.30 L286.59,310.26 L287.33,310.21 L288.07,310.16 L288.82,310.10 L289.56,310.04 L290.30,309.99 L291.05,309.94 L291.79,309.90 L292.53,309.85 L293.28,309.79 L294.02,309.73 L294.76,309.69 L295.50,309.65 L296.25,309.59 L296.99,309.55 L297.73,309.53 L298.48,309.54 L299.22,309.54 L299.96,309.52 L300.71,309.49 L301.45,309.44 L302.19,309.37 L302.94,309.29 L303.68,309.17 L304.42,309.06 L305.17,308.97 L305.91,308.91 L306.65,308.83 L307.39,308.73 L308.14,308.61 L308.88,308.54 L309.62,308.51 L310.37,308.50 L311.11,308.44 L311.85,308.30 L312.60,308.14 L313.34,307.95 L314.08,307.68 L314.83,307.32 L315.57,306.92 L316.31,306.59 L317.06,306.33 L317.80,306.11 L318.54,305.91 L319.28,305.79 L320.03,305.81 L320.77,305.82 L321.51,305.69 L322.26,305.43 L323.00,305.12 L323.74,304.88 L324.49,304.70 L325.23,304.55 L325.97,304.43 L326.72,304.45 L327.46,304.76 L328.20,305.24 L328.95,305.65 L329.69,305.84 L330.43,305.84 L331.17,306.08 L331.92,306.54 L332.66,307.09 L333.40,307.66 L334.15,308.21 L334.89,308.71 L335.63,309.08 L336.38,309.22 L337.12,309.24 L337.86,309.37 L338.61,309.60 L339.35,309.83 L340.09,310.01 L340.84,310.10 L341.58,310.11 L342.32,310.15 L343.06,310.21 L343.81,310.28 L344.55,310.34 L345.29,310.38 L346.04,310.40 L346.78,310.40 L347.52,310.40 L348.27,310.40 L349.01,310.40 L349.75,310.40 L350.50,310.40 L351.24,310.40 L351.98,310.40 L352.73,310.40 L353.47,310.40 L354.21,310.40 L354.95,310.40 L355.70,310.40 L356.44,310.40 L357.18,310.40 L357.93,310.40 L358.67,310.40 L359.41,310.40 L360.16,310.40 L360.90,310.40 L360.90,310.4 L242.00,310.4 Z" fill="#f9c486" stroke="none"/>
<path d="M242.00,310.40 L242.74,310.40 L243.49,310.40 L244.23,310.40 L244.97,310.40 L245.72,310.40 L246.46,310.40 L247.20,310.40 L247.94,310.40 L248.69,310.40 L249.43,310.40 L250.17,310.40 L250.92,310.40 L251.66,310.40 L252.40,310.40 L253.15,310.40 L253.89,310.40 L254.63,310.40 L255.38,310.40 L256.12,310.40 L256.86,310.40 L257.61,310.40 L258.35,310.40 L259.09,310.40 L259.83,310.40 L260.58,310.40 L261.32,310.40 L262.06,310.40 L262.81,310.40 L263.55,310.40 L264.29,310.40 L265.04,310.40 L265.78,310.40 L266.52,310.40 L267.27,310.40 L268.01,310.40 L268.75,310.40 L269.50,310.40 L270.24,310.40 L270.98,310.40 L271.73,310.40 L272.47,310.40 L273.21,310.40 L273.95,310.40 L274.70,310.40 L275.44,310.40 L276.18,310.40 L276.93,310.40 L277.67,310.40 L278.41,310.40 L279.16,310.40 L279.90,310.40 L280.64,310.40 L281.39,310.40 L282.13,310.40 L282.87,310.39 L283.62,310.38 L284.36,310.36 L285.10,310.33 L285.84,310.30 L286.59,310.26 L287.33,310.21 L288.07,310.16 L288.82,310.10 L289.56,310.04 L290.30,309.99 L291.05,309.94 L291.79,309.90 L292.53,309.85 L293.28,309.79 L294.02,309.73 L294.76,309.69 L295.50,309.65 L296.25,309.59 L296.99,309.55 L297.73,309.53 L298.48,309.54 L299.22,309.54 L299.96,309.52 L300.71,309.49 L301.45,309.44 L302.19,309.37 L302.94,309.29 L303.68,309.17 L304.42,309.06 L305.17,308.97 L305.91,308.91 L306.65,308.83 L307.39,308.73 L308.14,308.61 L308.88,308.54 L309.62,308.51 L310.37,308.50 L311.11,308.44 L311.85,308.30 L312.60,308.14 L313.34,307.95 L314.08,307.68 L314.83,307.32 L315.57,306.92 L316.31,306.59 L317.06,306.33 L317.80,306.11 L318.54,305.91 L319.28,305.79 L320.03,305.81 L320.77,305.82 L321.51,305.69 L322.26,305.43 L323.00,305.12 L323.74,304.88 L324.49,304.70 L325.23,304.55 L325.97,304.43 L326.72,304.45 L327.46,304.76 L328.20,305.24 L328.95,305.65 L329.69,305.84 L330.43,305.84 L331.17,306.08 L331.92,306.54 L332.66,307.09 L333.40,307.66 L334.15,308.21 L334.89,308.71 L335.63,309.08 L336.38,309.22 L337.12,309.24 L337.86,309.37 L338.61,309.60 L339.35,309.83 L340.09,310.01 L340.84,310.10 L341.58,310.11 L342.32,310.15 L343.06,310.21 L343.81,310.28 L344.55,310.34 L345.29,310.38 L346.04,310.40 L346.78,310.40 L347.52,310.40 L348.27,310.40 L349.01,310.40 L349.75,310.40 L350.50,310.40 L351.24,310.40 L351.98,310.40 L352.73,310.40 L353.47,310.40 L354.21,310.40 L354.95,310.40 L355.70,310.40 L356.44,310.40 L357.18,310.40 L357.93,310.40 L358.67,310.40 L359.41,310.40 L360.16,310.40 L360.90,310.40" fill="none" stroke="#f69a2c" stroke-width="1.25" stroke-linejoin="round"/>
<path d="M242.00,334.00 L242.74,334.00 L243.49,334.00 L244.23,334.00 L244.97,334.00 L245.72,334.00 L246.46,334.00 L247.20,334.00 L247.94,334.00 L248.69,334.00 L249.43,334.00 L250.17,334.00 L250.92,334.00 L251.66,334.00 L252.40,334.00 L253.15,334.00 L253.89,334.00 L254.63,334.00 L255.38,334.00 L256.12,334.00 L256.86,334.00 L257.61,334.00 L258.35,334.00 L259.09,334.00 L259.83,334.00 L260.58,334.00 L261.32,334.00 L262.06,334.00 L262.81,334.00 L263.55,334.00 L264.29,334.00 L265.04,334.00 L265.78,334.00 L266.52,334.00 L267.27,334.00 L268.01,334.00 L268.75,334.00 L269.50,334.00 L270.24,334.00 L270.98,334.00 L271.73,334.00 L272.47,334.00 L273.21,334.00 L273.95,334.00 L274.70,334.00 L275.44,334.00 L276.18,334.00 L276.93,334.00 L277.67,334.00 L278.41,334.00 L279.16,334.00 L279.90,334.00 L280.64,334.00 L281.39,334.00 L282.13,334.00 L282.87,334.00 L283.62,334.00 L284.36,334.00 L285.10,334.00 L285.84,334.00 L286.59,333.99 L287.33,333.95 L288.07,333.89 L288.82,333.81 L289.56,333.73 L290.30,333.64 L291.05,333.49 L291.79,333.29 L292.53,333.11 L293.28,333.03 L294.02,333.00 L294.76,332.92 L295.50,332.77 L296.25,332.64 L296.99,332.58 L297.73,332.48 L298.48,332.24 L299.22,331.97 L299.96,331.88 L300.71,332.00 L301.45,332.05 L302.19,331.87 L302.94,331.50 L303.68,331.14 L304.42,330.91 L305.17,330.65 L305.91,330.25 L306.65,329.90 L307.39,329.89 L308.14,330.00 L308.88,329.95 L309.62,329.51 L310.37,328.81 L311.11,328.19 L311.85,327.80 L312.60,327.52 L313.34,327.22 L314.08,326.80 L314.83,326.55 L315.57,326.53 L316.31,326.49 L317.06,326.22 L317.80,325.92 L318.54,325.76 L319.28,325.74 L320.03,325.68 L320.77,325.47 L321.51,325.31 L322.26,325.46 L323.00,325.86 L323.74,326.13 L324.49,326.04 L325.23,325.73 L325.97,325.53 L326.72,326.03 L327.46,326.31 L328.20,326.76 L328.95,327.57 L329.69,328.70 L330.43,329.80 L331.17,330.25 L331.92,330.52 L332.66,331.10 L333.40,332.02 L334.15,332.76 L334.89,332.93 L335.63,333.03 L336.38,333.21 L337.12,333.46 L337.86,333.68 L338.61,333.80 L339.35,333.81 L340.09,333.84 L340.84,333.92 L341.58,333.99 L342.32,334.00 L343.06,334.00 L343.81,334.00 L344.55,334.00 L345.29,334.00 L346.04,334.00 L346.78,334.00 L347.52,334.00 L348.27,334.00 L349.01,334.00 L349.75,334.00 L350.50,334.00 L351.24,334.00 L351.98,334.00 L352.73,334.00 L353.47,334.00 L354.21,334.00 L354.95,334.00 L355.70,334.00 L356.44,334.00 L357.18,334.00 L357.93,334.00 L358.67,334.00 L359.41,334.00 L360.16,334.00 L360.90,334.00 L360.90,334.0 L242.00,334.0 Z" fill="#84a2c0" stroke="none"/>
<path d="M242.00,334.00 L242.74,334.00 L243.49,334.00 L244.23,334.00 L244.97,334.00 L245.72,334.00 L246.46,334.00 L247.20,334.00 L247.94,334.00 L248.69,334.00 L249.43,334.00 L250.17,334.00 L250.92,334.00 L251.66,334.00 L252.40,334.00 L253.15,334.00 L253.89,334.00 L254.63,334.00 L255.38,334.00 L256.12,334.00 L256.86,334.00 L257.61,334.00 L258.35,334.00 L259.09,334.00 L259.83,334.00 L260.58,334.00 L261.32,334.00 L262.06,334.00 L262.81,334.00 L263.55,334.00 L264.29,334.00 L265.04,334.00 L265.78,334.00 L266.52,334.00 L267.27,334.00 L268.01,334.00 L268.75,334.00 L269.50,334.00 L270.24,334.00 L270.98,334.00 L271.73,334.00 L272.47,334.00 L273.21,334.00 L273.95,334.00 L274.70,334.00 L275.44,334.00 L276.18,334.00 L276.93,334.00 L277.67,334.00 L278.41,334.00 L279.16,334.00 L279.90,334.00 L280.64,334.00 L281.39,334.00 L282.13,334.00 L282.87,334.00 L283.62,334.00 L284.36,334.00 L285.10,334.00 L285.84,334.00 L286.59,333.99 L287.33,333.95 L288.07,333.89 L288.82,333.81 L289.56,333.73 L290.30,333.64 L291.05,333.49 L291.79,333.29 L292.53,333.11 L293.28,333.03 L294.02,333.00 L294.76,332.92 L295.50,332.77 L296.25,332.64 L296.99,332.58 L297.73,332.48 L298.48,332.24 L299.22,331.97 L299.96,331.88 L300.71,332.00 L301.45,332.05 L302.19,331.87 L302.94,331.50 L303.68,331.14 L304.42,330.91 L305.17,330.65 L305.91,330.25 L306.65,329.90 L307.39,329.89 L308.14,330.00 L308.88,329.95 L309.62,329.51 L310.37,328.81 L311.11,328.19 L311.85,327.80 L312.60,327.52 L313.34,327.22 L314.08,326.80 L314.83,326.55 L315.57,326.53 L316.31,326.49 L317.06,326.22 L317.80,325.92 L318.54,325.76 L319.28,325.74 L320.03,325.68 L320.77,325.47 L321.51,325.31 L322.26,325.46 L323.00,325.86 L323.74,326.13 L324.49,326.04 L325.23,325.73 L325.97,325.53 L326.72,326.03 L327.46,326.31 L328.20,326.76 L328.95,327.57 L329.69,328.70 L330.43,329.80 L331.17,330.25 L331.92,330.52 L332.66,331.10 L333.40,332.02 L334.15,332.76 L334.89,332.93 L335.63,333.03 L336.38,333.21 L337.12,333.46 L337.86,333.68 L338.61,333.80 L339.35,333.81 L340.09,333.84 L340.84,333.92 L341.58,333.99 L342.32,334.00 L343.06,334.00 L343.81,334.00 L344.55,334.00 L345.29,334.00 L346.04,334.00 L346.78,334.00 L347.52,334.00 L348.27,334.00 L349.01,334.00 L349.75,334.00 L350.50,334.00 L351.24,334.00 L351.98,334.00 L352.73,334.00 L353.47,334.00 L354.21,334.00 L354.95,334.00 L355.70,334.00 L356.44,334.00 L357.18,334.00 L357.93,334.00 L358.67,334.00 L359.41,334.00 L360.16,334.00 L360.90,334.00" fill="none" stroke="#235d92" stroke-width="1.25" stroke-linejoin="round"/>
<path d="M242.00,357.50 L242.50,357.50 L243.00,357.50 L243.50,357.50 L244.00,357.50 L244.50,357.50 L245.00,357.50 L245.50,357.50 L246.00,357.49 L246.50,357.49 L247.00,357.48 L247.50,357.46 L248.00,357.43 L248.50,357.39 L249.00,357.32 L249.50,357.21 L250.00,357.05 L250.50,356.82 L251.00,356.49 L251.50,356.04 L252.00,355.44 L252.50,354.66 L253.00,353.69 L253.50,352.50 L254.00,351.10 L254.50,349.51 L255.00,347.77 L255.50,345.92 L256.00,344.07 L256.50,342.28 L257.00,340.68 L257.50,339.36 L258.00,338.41 L258.50,337.89 L259.00,337.82 L259.50,338.09 L260.00,338.63 L260.50,339.42 L261.00,340.44 L261.50,341.64 L262.00,342.97 L262.50,344.39 L263.00,345.84 L263.50,347.29 L264.00,348.69 L264.50,350.01 L265.00,351.22 L265.50,352.32 L266.00,353.28 L266.50,354.12 L267.00,354.83 L267.50,355.43 L268.00,355.91 L268.50,356.30 L269.00,356.61 L269.50,356.85 L270.00,357.03 L270.50,357.16 L271.00,357.26 L271.50,357.34 L272.00,357.39 L272.50,357.43 L273.00,357.45 L273.50,357.47 L274.00,357.48 L274.50,357.49 L275.00,357.49 L275.50,357.50 L276.00,357.50 L276.50,357.50 L277.00,357.50 L277.50,357.50 L278.00,357.50 L278.50,357.50 L279.00,357.50 L279.50,357.50 L280.00,357.50 L280.50,357.50 L281.00,357.50 L281.50,357.50 L282.00,357.50 L282.50,357.50 L283.00,357.50 L283.50,357.50 L284.00,357.50 L284.50,357.50 L285.00,357.50 L285.50,357.50 L286.00,357.50 L286.50,357.50 L287.00,357.50 L287.50,357.50 L288.00,357.50 L288.50,357.50 L289.00,357.50 L289.50,357.50 L290.00,357.50 L290.50,357.50 L291.00,357.50 L291.50,357.50 L292.00,357.50 L292.50,357.50 L293.00,357.50 L293.50,357.50 L294.00,357.50 L294.50,357.50 L295.00,357.50 L295.50,357.50 L296.00,357.50 L296.50,357.50 L297.00,357.50 L297.50,357.50 L298.00,357.50 L298.50,357.50 L299.00,357.50 L299.50,357.50 L300.00,357.50 L300.50,357.50 L301.00,357.50 L301.50,357.50 L302.00,357.50 L302.50,357.50 L303.00,357.50 L303.50,357.50 L304.00,357.50 L304.50,357.50 L305.00,357.50 L305.50,357.50 L306.00,357.50 L306.50,357.50 L307.00,357.50 L307.50,357.50 L308.00,357.50 L308.50,357.50 L309.00,357.50 L309.50,357.50 L310.00,357.50 L310.50,357.50 L311.00,357.50 L311.50,357.50 L312.00,357.50 L312.50,357.50 L313.00,357.50 L313.50,357.50 L314.00,357.50 L314.50,357.50 L315.00,357.50 L315.50,357.50 L316.00,357.50 L316.50,357.50 L317.00,357.50 L317.50,357.50 L318.00,357.50 L318.50,357.50 L319.00,357.50 L319.50,357.50 L320.00,357.50 L320.50,357.50 L321.00,357.50 L321.50,357.50 L322.00,357.50 L322.50,357.50 L323.00,357.50 L323.50,357.50 L324.00,357.50 L324.50,357.50 L325.00,357.50 L325.50,357.50 L326.00,357.50 L326.50,357.50 L327.00,357.50 L327.50,357.50 L328.00,357.50 L328.50,357.50 L329.00,357.50 L329.50,357.50 L330.00,357.50 L330.50,357.50 L331.00,357.50 L331.50,357.50 L332.00,357.50 L332.50,357.50 L333.00,357.50 L333.50,357.50 L334.00,357.50 L334.50,357.50 L335.00,357.50 L335.50,357.50 L336.00,357.50 L336.50,357.50 L337.00,357.50 L337.50,357.50 L338.00,357.50 L338.50,357.50 L339.00,357.50 L339.50,357.50 L340.00,357.50 L340.50,357.50 L341.00,357.50 L341.50,357.50 L342.00,357.50 L342.50,357.50 L343.00,357.50 L343.50,357.50 L344.00,357.50 L344.50,357.50 L345.00,357.50 L345.50,357.50 L346.00,357.50 L346.50,357.50 L347.00,357.50 L347.50,357.50 L348.00,357.50 L348.50,357.50 L349.00,357.50 L349.50,357.50 L350.00,357.50 L350.50,357.50 L351.00,357.50 L351.50,357.50 L352.00,357.50 L352.50,357.50 L353.00,357.50 L353.50,357.50 L354.00,357.50 L354.50,357.50 L355.00,357.50 L355.50,357.50 L356.00,357.50 L356.50,357.50 L357.00,357.50 L357.50,357.50 L358.00,357.50 L358.50,357.50 L359.00,357.50 L359.50,357.50 L360.00,357.50 L360.90,357.50 L360.90,357.5 L242.00,357.5 Z" fill="#a886bd" stroke="none"/>
<path d="M242.00,357.50 L242.50,357.50 L243.00,357.50 L243.50,357.50 L244.00,357.50 L244.50,357.50 L245.00,357.50 L245.50,357.50 L246.00,357.49 L246.50,357.49 L247.00,357.48 L247.50,357.46 L248.00,357.43 L248.50,357.39 L249.00,357.32 L249.50,357.21 L250.00,357.05 L250.50,356.82 L251.00,356.49 L251.50,356.04 L252.00,355.44 L252.50,354.66 L253.00,353.69 L253.50,352.50 L254.00,351.10 L254.50,349.51 L255.00,347.77 L255.50,345.92 L256.00,344.07 L256.50,342.28 L257.00,340.68 L257.50,339.36 L258.00,338.41 L258.50,337.89 L259.00,337.82 L259.50,338.09 L260.00,338.63 L260.50,339.42 L261.00,340.44 L261.50,341.64 L262.00,342.97 L262.50,344.39 L263.00,345.84 L263.50,347.29 L264.00,348.69 L264.50,350.01 L265.00,351.22 L265.50,352.32 L266.00,353.28 L266.50,354.12 L267.00,354.83 L267.50,355.43 L268.00,355.91 L268.50,356.30 L269.00,356.61 L269.50,356.85 L270.00,357.03 L270.50,357.16 L271.00,357.26 L271.50,357.34 L272.00,357.39 L272.50,357.43 L273.00,357.45 L273.50,357.47 L274.00,357.48 L274.50,357.49 L275.00,357.49 L275.50,357.50 L276.00,357.50 L276.50,357.50 L277.00,357.50 L277.50,357.50 L278.00,357.50 L278.50,357.50 L279.00,357.50 L279.50,357.50 L280.00,357.50 L280.50,357.50 L281.00,357.50 L281.50,357.50 L282.00,357.50 L282.50,357.50 L283.00,357.50 L283.50,357.50 L284.00,357.50 L284.50,357.50 L285.00,357.50 L285.50,357.50 L286.00,357.50 L286.50,357.50 L287.00,357.50 L287.50,357.50 L288.00,357.50 L288.50,357.50 L289.00,357.50 L289.50,357.50 L290.00,357.50 L290.50,357.50 L291.00,357.50 L291.50,357.50 L292.00,357.50 L292.50,357.50 L293.00,357.50 L293.50,357.50 L294.00,357.50 L294.50,357.50 L295.00,357.50 L295.50,357.50 L296.00,357.50 L296.50,357.50 L297.00,357.50 L297.50,357.50 L298.00,357.50 L298.50,357.50 L299.00,357.50 L299.50,357.50 L300.00,357.50 L300.50,357.50 L301.00,357.50 L301.50,357.50 L302.00,357.50 L302.50,357.50 L303.00,357.50 L303.50,357.50 L304.00,357.50 L304.50,357.50 L305.00,357.50 L305.50,357.50 L306.00,357.50 L306.50,357.50 L307.00,357.50 L307.50,357.50 L308.00,357.50 L308.50,357.50 L309.00,357.50 L309.50,357.50 L310.00,357.50 L310.50,357.50 L311.00,357.50 L311.50,357.50 L312.00,357.50 L312.50,357.50 L313.00,357.50 L313.50,357.50 L314.00,357.50 L314.50,357.50 L315.00,357.50 L315.50,357.50 L316.00,357.50 L316.50,357.50 L317.00,357.50 L317.50,357.50 L318.00,357.50 L318.50,357.50 L319.00,357.50 L319.50,357.50 L320.00,357.50 L320.50,357.50 L321.00,357.50 L321.50,357.50 L322.00,357.50 L322.50,357.50 L323.00,357.50 L323.50,357.50 L324.00,357.50 L324.50,357.50 L325.00,357.50 L325.50,357.50 L326.00,357.50 L326.50,357.50 L327.00,357.50 L327.50,357.50 L328.00,357.50 L328.50,357.50 L329.00,357.50 L329.50,357.50 L330.00,357.50 L330.50,357.50 L331.00,357.50 L331.50,357.50 L332.00,357.50 L332.50,357.50 L333.00,357.50 L333.50,357.50 L334.00,357.50 L334.50,357.50 L335.00,357.50 L335.50,357.50 L336.00,357.50 L336.50,357.50 L337.00,357.50 L337.50,357.50 L338.00,357.50 L338.50,357.50 L339.00,357.50 L339.50,357.50 L340.00,357.50 L340.50,357.50 L341.00,357.50 L341.50,357.50 L342.00,357.50 L342.50,357.50 L343.00,357.50 L343.50,357.50 L344.00,357.50 L344.50,357.50 L345.00,357.50 L345.50,357.50 L346.00,357.50 L346.50,357.50 L347.00,357.50 L347.50,357.50 L348.00,357.50 L348.50,357.50 L349.00,357.50 L349.50,357.50 L350.00,357.50 L350.50,357.50 L351.00,357.50 L351.50,357.50 L352.00,357.50 L352.50,357.50 L353.00,357.50 L353.50,357.50 L354.00,357.50 L354.50,357.50 L355.00,357.50 L355.50,357.50 L356.00,357.50 L356.50,357.50 L357.00,357.50 L357.50,357.50 L358.00,357.50 L358.50,357.50 L359.00,357.50 L359.50,357.50 L360.00,357.50 L360.90,357.50" fill="none" stroke="#633785" stroke-width="1.25" stroke-linejoin="round"/>
<path d="M390.80,263.40 L391.54,263.40 L392.29,263.40 L393.03,263.40 L393.77,263.40 L394.51,263.39 L395.25,263.38 L396.00,263.35 L396.74,263.31 L397.48,263.27 L398.23,263.23 L398.97,263.18 L399.71,263.13 L400.45,263.09 L401.19,263.06 L401.94,263.04 L402.68,262.98 L403.42,262.91 L404.17,262.86 L404.91,262.86 L405.65,262.87 L406.39,262.85 L407.13,262.81 L407.88,262.77 L408.62,262.74 L409.36,262.70 L410.11,262.58 L410.85,262.43 L411.59,262.31 L412.33,262.27 L413.07,262.25 L413.82,262.19 L414.56,262.10 L415.30,262.04 L416.05,262.03 L416.79,261.97 L417.53,261.82 L418.27,261.66 L419.01,261.61 L419.76,261.66 L420.50,261.71 L421.24,261.66 L421.99,261.54 L422.73,261.44 L423.47,261.38 L424.21,261.25 L424.96,260.97 L425.70,260.65 L426.44,260.49 L427.18,260.53 L427.93,260.57 L428.67,260.43 L429.41,260.18 L430.15,259.98 L430.90,259.87 L431.64,259.71 L432.38,259.43 L433.12,259.19 L433.87,259.19 L434.61,259.41 L435.35,259.51 L436.09,259.35 L436.84,259.02 L437.58,258.74 L438.32,258.55 L439.06,258.33 L439.81,258.04 L440.55,257.84 L441.29,257.94 L442.03,258.36 L442.78,258.76 L443.52,258.85 L444.26,258.65 L445.00,258.41 L445.75,258.22 L446.49,257.94 L447.23,257.54 L447.97,257.17 L448.72,257.02 L449.46,257.03 L450.20,256.98 L450.94,256.77 L451.69,256.56 L452.43,256.56 L453.17,256.77 L453.91,257.01 L454.66,257.18 L455.40,257.39 L456.14,257.74 L456.88,258.13 L457.62,258.31 L458.37,258.16 L459.11,258.10 L459.85,258.42 L460.60,259.03 L461.34,259.65 L462.08,260.08 L462.82,260.32 L463.57,260.50 L464.31,260.81 L465.05,261.02 L465.79,261.10 L466.54,261.21 L467.28,261.48 L468.02,261.83 L468.76,262.11 L469.50,262.29 L470.25,262.39 L470.99,262.46 L471.73,262.54 L472.48,262.61 L473.22,262.67 L473.96,262.75 L474.70,262.89 L475.45,263.02 L476.19,263.09 L476.93,263.10 L477.67,263.13 L478.42,263.19 L479.16,263.25 L479.90,263.31 L480.64,263.35 L481.38,263.39 L482.13,263.40 L482.87,263.40 L483.61,263.40 L484.36,263.40 L485.10,263.40 L485.84,263.40 L486.58,263.40 L487.33,263.40 L488.07,263.40 L488.81,263.40 L489.55,263.40 L490.30,263.40 L491.04,263.40 L491.78,263.40 L492.52,263.40 L493.26,263.40 L494.01,263.40 L494.75,263.40 L495.49,263.40 L496.24,263.40 L496.98,263.40 L497.72,263.40 L498.46,263.40 L499.21,263.40 L499.95,263.40 L500.69,263.40 L501.43,263.40 L502.18,263.40 L502.92,263.40 L503.66,263.40 L504.40,263.40 L505.14,263.40 L505.89,263.40 L506.63,263.40 L507.37,263.40 L508.12,263.40 L508.86,263.40 L509.60,263.40 L509.60,263.4 L390.80,263.4 Z" fill="#e3829a" stroke="none"/>
<path d="M390.80,263.40 L391.54,263.40 L392.29,263.40 L393.03,263.40 L393.77,263.40 L394.51,263.39 L395.25,263.38 L396.00,263.35 L396.74,263.31 L397.48,263.27 L398.23,263.23 L398.97,263.18 L399.71,263.13 L400.45,263.09 L401.19,263.06 L401.94,263.04 L402.68,262.98 L403.42,262.91 L404.17,262.86 L404.91,262.86 L405.65,262.87 L406.39,262.85 L407.13,262.81 L407.88,262.77 L408.62,262.74 L409.36,262.70 L410.11,262.58 L410.85,262.43 L411.59,262.31 L412.33,262.27 L413.07,262.25 L413.82,262.19 L414.56,262.10 L415.30,262.04 L416.05,262.03 L416.79,261.97 L417.53,261.82 L418.27,261.66 L419.01,261.61 L419.76,261.66 L420.50,261.71 L421.24,261.66 L421.99,261.54 L422.73,261.44 L423.47,261.38 L424.21,261.25 L424.96,260.97 L425.70,260.65 L426.44,260.49 L427.18,260.53 L427.93,260.57 L428.67,260.43 L429.41,260.18 L430.15,259.98 L430.90,259.87 L431.64,259.71 L432.38,259.43 L433.12,259.19 L433.87,259.19 L434.61,259.41 L435.35,259.51 L436.09,259.35 L436.84,259.02 L437.58,258.74 L438.32,258.55 L439.06,258.33 L439.81,258.04 L440.55,257.84 L441.29,257.94 L442.03,258.36 L442.78,258.76 L443.52,258.85 L444.26,258.65 L445.00,258.41 L445.75,258.22 L446.49,257.94 L447.23,257.54 L447.97,257.17 L448.72,257.02 L449.46,257.03 L450.20,256.98 L450.94,256.77 L451.69,256.56 L452.43,256.56 L453.17,256.77 L453.91,257.01 L454.66,257.18 L455.40,257.39 L456.14,257.74 L456.88,258.13 L457.62,258.31 L458.37,258.16 L459.11,258.10 L459.85,258.42 L460.60,259.03 L461.34,259.65 L462.08,260.08 L462.82,260.32 L463.57,260.50 L464.31,260.81 L465.05,261.02 L465.79,261.10 L466.54,261.21 L467.28,261.48 L468.02,261.83 L468.76,262.11 L469.50,262.29 L470.25,262.39 L470.99,262.46 L471.73,262.54 L472.48,262.61 L473.22,262.67 L473.96,262.75 L474.70,262.89 L475.45,263.02 L476.19,263.09 L476.93,263.10 L477.67,263.13 L478.42,263.19 L479.16,263.25 L479.90,263.31 L480.64,263.35 L481.38,263.39 L482.13,263.40 L482.87,263.40 L483.61,263.40 L484.36,263.40 L485.10,263.40 L485.84,263.40 L486.58,263.40 L487.33,263.40 L488.07,263.40 L488.81,263.40 L489.55,263.40 L490.30,263.40 L491.04,263.40 L491.78,263.40 L492.52,263.40 L493.26,263.40 L494.01,263.40 L494.75,263.40 L495.49,263.40 L496.24,263.40 L496.98,263.40 L497.72,263.40 L498.46,263.40 L499.21,263.40 L499.95,263.40 L500.69,263.40 L501.43,263.40 L502.18,263.40 L502.92,263.40 L503.66,263.40 L504.40,263.40 L505.14,263.40 L505.89,263.40 L506.63,263.40 L507.37,263.40 L508.12,263.40 L508.86,263.40 L509.60,263.40" fill="none" stroke="#c81538" stroke-width="1.25" stroke-linejoin="round"/>
<path d="M390.80,287.10 L391.54,287.10 L392.29,287.10 L393.03,287.10 L393.77,287.10 L394.51,287.10 L395.25,287.08 L396.00,287.06 L396.74,287.03 L397.48,287.00 L398.23,286.95 L398.97,286.91 L399.71,286.88 L400.45,286.85 L401.19,286.78 L401.94,286.68 L402.68,286.60 L403.42,286.55 L404.17,286.52 L404.91,286.47 L405.65,286.42 L406.39,286.39 L407.13,286.40 L407.88,286.39 L408.62,286.32 L409.36,286.24 L410.11,286.22 L410.85,286.26 L411.59,286.31 L412.33,286.30 L413.07,286.26 L413.82,286.24 L414.56,286.23 L415.30,286.17 L416.05,286.03 L416.79,285.86 L417.53,285.76 L418.27,285.77 L419.01,285.79 L419.76,285.73 L420.50,285.63 L421.24,285.57 L421.99,285.55 L422.73,285.49 L423.47,285.33 L424.21,285.17 L424.96,285.16 L425.70,285.29 L426.44,285.42 L427.18,285.41 L427.93,285.33 L428.67,285.28 L429.41,285.25 L430.15,285.11 L430.90,284.81 L431.64,284.46 L432.38,284.28 L433.12,284.28 L433.87,284.25 L434.61,283.97 L435.35,283.57 L436.09,283.28 L436.84,283.13 L437.58,282.95 L438.32,282.68 L439.06,282.51 L439.81,282.63 L440.55,282.93 L441.29,283.09 L442.03,282.93 L442.78,282.61 L443.52,282.38 L444.26,282.27 L445.00,282.10 L445.75,281.82 L446.49,281.60 L447.23,281.60 L447.97,281.74 L448.72,281.73 L449.46,281.47 L450.20,281.12 L450.94,280.95 L451.69,280.97 L452.43,280.99 L453.17,280.93 L453.91,280.94 L454.66,281.22 L455.40,281.63 L456.14,281.88 L456.88,281.87 L457.62,281.78 L458.37,281.85 L459.11,282.06 L459.85,282.20 L460.60,282.18 L461.34,282.35 L462.08,282.82 L462.82,283.45 L463.57,283.93 L464.31,284.17 L465.05,284.40 L465.79,284.76 L466.54,285.10 L467.28,285.25 L468.02,285.30 L468.76,285.38 L469.50,285.55 L470.25,285.74 L470.99,285.84 L471.73,285.85 L472.48,285.89 L473.22,286.04 L473.96,286.23 L474.70,286.38 L475.45,286.45 L476.19,286.48 L476.93,286.51 L477.67,286.54 L478.42,286.56 L479.16,286.55 L479.90,286.56 L480.64,286.63 L481.38,286.72 L482.13,286.79 L482.87,286.84 L483.61,286.88 L484.36,286.93 L485.10,286.97 L485.84,287.00 L486.58,287.02 L487.33,287.04 L488.07,287.05 L488.81,287.05 L489.55,287.05 L490.30,287.05 L491.04,287.05 L491.78,287.05 L492.52,287.06 L493.26,287.06 L494.01,287.06 L494.75,287.06 L495.49,287.06 L496.24,287.07 L496.98,287.07 L497.72,287.07 L498.46,287.07 L499.21,287.08 L499.95,287.08 L500.69,287.08 L501.43,287.08 L502.18,287.08 L502.92,287.09 L503.66,287.09 L504.40,287.09 L505.14,287.09 L505.89,287.10 L506.63,287.10 L507.37,287.10 L508.12,287.10 L508.86,287.10 L509.60,287.10 L509.60,287.1 L390.80,287.1 Z" fill="#98d39a" stroke="none"/>
<path d="M390.80,287.10 L391.54,287.10 L392.29,287.10 L393.03,287.10 L393.77,287.10 L394.51,287.10 L395.25,287.08 L396.00,287.06 L396.74,287.03 L397.48,287.00 L398.23,286.95 L398.97,286.91 L399.71,286.88 L400.45,286.85 L401.19,286.78 L401.94,286.68 L402.68,286.60 L403.42,286.55 L404.17,286.52 L404.91,286.47 L405.65,286.42 L406.39,286.39 L407.13,286.40 L407.88,286.39 L408.62,286.32 L409.36,286.24 L410.11,286.22 L410.85,286.26 L411.59,286.31 L412.33,286.30 L413.07,286.26 L413.82,286.24 L414.56,286.23 L415.30,286.17 L416.05,286.03 L416.79,285.86 L417.53,285.76 L418.27,285.77 L419.01,285.79 L419.76,285.73 L420.50,285.63 L421.24,285.57 L421.99,285.55 L422.73,285.49 L423.47,285.33 L424.21,285.17 L424.96,285.16 L425.70,285.29 L426.44,285.42 L427.18,285.41 L427.93,285.33 L428.67,285.28 L429.41,285.25 L430.15,285.11 L430.90,284.81 L431.64,284.46 L432.38,284.28 L433.12,284.28 L433.87,284.25 L434.61,283.97 L435.35,283.57 L436.09,283.28 L436.84,283.13 L437.58,282.95 L438.32,282.68 L439.06,282.51 L439.81,282.63 L440.55,282.93 L441.29,283.09 L442.03,282.93 L442.78,282.61 L443.52,282.38 L444.26,282.27 L445.00,282.10 L445.75,281.82 L446.49,281.60 L447.23,281.60 L447.97,281.74 L448.72,281.73 L449.46,281.47 L450.20,281.12 L450.94,280.95 L451.69,280.97 L452.43,280.99 L453.17,280.93 L453.91,280.94 L454.66,281.22 L455.40,281.63 L456.14,281.88 L456.88,281.87 L457.62,281.78 L458.37,281.85 L459.11,282.06 L459.85,282.20 L460.60,282.18 L461.34,282.35 L462.08,282.82 L462.82,283.45 L463.57,283.93 L464.31,284.17 L465.05,284.40 L465.79,284.76 L466.54,285.10 L467.28,285.25 L468.02,285.30 L468.76,285.38 L469.50,285.55 L470.25,285.74 L470.99,285.84 L471.73,285.85 L472.48,285.89 L473.22,286.04 L473.96,286.23 L474.70,286.38 L475.45,286.45 L476.19,286.48 L476.93,286.51 L477.67,286.54 L478.42,286.56 L479.16,286.55 L479.90,286.56 L480.64,286.63 L481.38,286.72 L482.13,286.79 L482.87,286.84 L483.61,286.88 L484.36,286.93 L485.10,286.97 L485.84,287.00 L486.58,287.02 L487.33,287.04 L488.07,287.05 L488.81,287.05 L489.55,287.05 L490.30,287.05 L491.04,287.05 L491.78,287.05 L492.52,287.06 L493.26,287.06 L494.01,287.06 L494.75,287.06 L495.49,287.06 L496.24,287.07 L496.98,287.07 L497.72,287.07 L498.46,287.07 L499.21,287.08 L499.95,287.08 L500.69,287.08 L501.43,287.08 L502.18,287.08 L502.92,287.09 L503.66,287.09 L504.40,287.09 L505.14,287.09 L505.89,287.10 L506.63,287.10 L507.37,287.10 L508.12,287.10 L508.86,287.10 L509.60,287.10" fill="none" stroke="#44ad4a" stroke-width="1.25" stroke-linejoin="round"/>
<path d="M390.80,310.80 L391.54,310.80 L392.29,310.80 L393.03,310.80 L393.77,310.80 L394.51,310.78 L395.25,310.76 L396.00,310.73 L396.74,310.70 L397.48,310.66 L398.23,310.62 L398.97,310.57 L399.71,310.53 L400.45,310.48 L401.19,310.41 L401.94,310.34 L402.68,310.28 L403.42,310.25 L404.17,310.23 L404.91,310.19 L405.65,310.15 L406.39,310.12 L407.13,310.10 L407.88,310.07 L408.62,310.01 L409.36,309.96 L410.11,309.96 L410.85,309.99 L411.59,310.00 L412.33,309.96 L413.07,309.91 L413.82,309.86 L414.56,309.82 L415.30,309.75 L416.05,309.65 L416.79,309.55 L417.53,309.51 L418.27,309.52 L419.01,309.50 L419.76,309.43 L420.50,309.33 L421.24,309.25 L421.99,309.19 L422.73,309.10 L423.47,308.97 L424.21,308.86 L424.96,308.86 L425.70,308.91 L426.44,308.93 L427.18,308.86 L427.93,308.77 L428.67,308.74 L429.41,308.74 L430.15,308.67 L430.90,308.54 L431.64,308.42 L432.38,308.40 L433.12,308.42 L433.87,308.34 L434.61,308.12 L435.35,307.85 L436.09,307.65 L436.84,307.52 L437.58,307.35 L438.32,307.14 L439.06,307.00 L439.81,307.01 L440.55,307.07 L441.29,307.05 L442.03,306.90 L442.78,306.70 L443.52,306.53 L444.26,306.37 L445.00,306.13 L445.75,305.80 L446.49,305.51 L447.23,305.30 L447.97,305.12 L448.72,304.82 L449.46,304.42 L450.20,304.08 L450.94,303.94 L451.69,303.97 L452.43,304.03 L453.17,304.07 L453.91,304.15 L454.66,304.33 L455.40,304.48 L456.14,304.47 L456.88,304.36 L457.62,304.42 L458.37,304.74 L459.11,305.22 L459.85,305.71 L460.60,306.13 L461.34,306.56 L462.08,307.00 L462.82,307.33 L463.57,307.42 L464.31,307.28 L465.05,307.31 L465.79,307.61 L466.54,308.08 L467.28,308.52 L468.02,308.90 L468.76,309.26 L469.50,309.57 L470.25,309.77 L470.99,309.80 L471.73,309.81 L472.48,309.91 L473.22,310.08 L473.96,310.27 L474.70,310.41 L475.45,310.49 L476.19,310.51 L476.93,310.54 L477.67,310.59 L478.42,310.64 L479.16,310.70 L479.90,310.76 L480.64,310.80 L481.38,310.80 L482.13,310.80 L482.87,310.80 L483.61,310.80 L484.36,310.80 L485.10,310.80 L485.84,310.80 L486.58,310.80 L487.33,310.80 L488.07,310.80 L488.81,310.80 L489.55,310.80 L490.30,310.80 L491.04,310.80 L491.78,310.80 L492.52,310.80 L493.26,310.80 L494.01,310.80 L494.75,310.80 L495.49,310.80 L496.24,310.80 L496.98,310.80 L497.72,310.80 L498.46,310.80 L499.21,310.80 L499.95,310.80 L500.69,310.80 L501.43,310.80 L502.18,310.80 L502.92,310.80 L503.66,310.80 L504.40,310.80 L505.14,310.80 L505.89,310.80 L506.63,310.80 L507.37,310.80 L508.12,310.80 L508.86,310.80 L509.60,310.80 L509.60,310.8 L390.80,310.8 Z" fill="#f9c486" stroke="none"/>
<path d="M390.80,310.80 L391.54,310.80 L392.29,310.80 L393.03,310.80 L393.77,310.80 L394.51,310.78 L395.25,310.76 L396.00,310.73 L396.74,310.70 L397.48,310.66 L398.23,310.62 L398.97,310.57 L399.71,310.53 L400.45,310.48 L401.19,310.41 L401.94,310.34 L402.68,310.28 L403.42,310.25 L404.17,310.23 L404.91,310.19 L405.65,310.15 L406.39,310.12 L407.13,310.10 L407.88,310.07 L408.62,310.01 L409.36,309.96 L410.11,309.96 L410.85,309.99 L411.59,310.00 L412.33,309.96 L413.07,309.91 L413.82,309.86 L414.56,309.82 L415.30,309.75 L416.05,309.65 L416.79,309.55 L417.53,309.51 L418.27,309.52 L419.01,309.50 L419.76,309.43 L420.50,309.33 L421.24,309.25 L421.99,309.19 L422.73,309.10 L423.47,308.97 L424.21,308.86 L424.96,308.86 L425.70,308.91 L426.44,308.93 L427.18,308.86 L427.93,308.77 L428.67,308.74 L429.41,308.74 L430.15,308.67 L430.90,308.54 L431.64,308.42 L432.38,308.40 L433.12,308.42 L433.87,308.34 L434.61,308.12 L435.35,307.85 L436.09,307.65 L436.84,307.52 L437.58,307.35 L438.32,307.14 L439.06,307.00 L439.81,307.01 L440.55,307.07 L441.29,307.05 L442.03,306.90 L442.78,306.70 L443.52,306.53 L444.26,306.37 L445.00,306.13 L445.75,305.80 L446.49,305.51 L447.23,305.30 L447.97,305.12 L448.72,304.82 L449.46,304.42 L450.20,304.08 L450.94,303.94 L451.69,303.97 L452.43,304.03 L453.17,304.07 L453.91,304.15 L454.66,304.33 L455.40,304.48 L456.14,304.47 L456.88,304.36 L457.62,304.42 L458.37,304.74 L459.11,305.22 L459.85,305.71 L460.60,306.13 L461.34,306.56 L462.08,307.00 L462.82,307.33 L463.57,307.42 L464.31,307.28 L465.05,307.31 L465.79,307.61 L466.54,308.08 L467.28,308.52 L468.02,308.90 L468.76,309.26 L469.50,309.57 L470.25,309.77 L470.99,309.80 L471.73,309.81 L472.48,309.91 L473.22,310.08 L473.96,310.27 L474.70,310.41 L475.45,310.49 L476.19,310.51 L476.93,310.54 L477.67,310.59 L478.42,310.64 L479.16,310.70 L479.90,310.76 L480.64,310.80 L481.38,310.80 L482.13,310.80 L482.87,310.80 L483.61,310.80 L484.36,310.80 L485.10,310.80 L485.84,310.80 L486.58,310.80 L487.33,310.80 L488.07,310.80 L488.81,310.80 L489.55,310.80 L490.30,310.80 L491.04,310.80 L491.78,310.80 L492.52,310.80 L493.26,310.80 L494.01,310.80 L494.75,310.80 L495.49,310.80 L496.24,310.80 L496.98,310.80 L497.72,310.80 L498.46,310.80 L499.21,310.80 L499.95,310.80 L500.69,310.80 L501.43,310.80 L502.18,310.80 L502.92,310.80 L503.66,310.80 L504.40,310.80 L505.14,310.80 L505.89,310.80 L506.63,310.80 L507.37,310.80 L508.12,310.80 L508.86,310.80 L509.60,310.80" fill="none" stroke="#f69a2c" stroke-width="1.25" stroke-linejoin="round"/>
<path d="M390.80,334.20 L391.54,334.20 L392.29,334.20 L393.03,334.20 L393.77,334.19 L394.51,334.18 L395.25,334.15 L396.00,334.12 L396.74,334.07 L397.48,334.02 L398.23,333.98 L398.97,333.97 L399.71,333.95 L400.45,333.91 L401.19,333.84 L401.94,333.77 L402.68,333.74 L403.42,333.73 L404.17,333.70 L404.91,333.68 L405.65,333.68 L406.39,333.71 L407.13,333.71 L407.88,333.62 L408.62,333.48 L409.36,333.35 L410.11,333.29 L410.85,333.26 L411.59,333.19 L412.33,333.10 L413.07,333.09 L413.82,333.13 L414.56,333.14 L415.30,332.99 L416.05,332.77 L416.79,332.64 L417.53,332.67 L418.27,332.74 L419.01,332.74 L419.76,332.67 L420.50,332.62 L421.24,332.61 L421.99,332.49 L422.73,332.16 L423.47,331.72 L424.21,331.46 L424.96,331.47 L425.70,331.58 L426.44,331.55 L427.18,331.45 L427.93,331.48 L428.67,331.64 L429.41,331.61 L430.15,331.24 L430.90,330.77 L431.64,330.55 L432.38,330.62 L433.12,330.68 L433.87,330.49 L434.61,330.18 L435.35,329.98 L436.09,329.93 L436.84,329.81 L437.58,329.55 L438.32,329.42 L439.06,329.69 L439.81,330.26 L440.55,330.73 L441.29,330.79 L442.03,330.59 L442.78,330.39 L443.52,330.25 L444.26,329.95 L445.00,329.45 L445.75,329.01 L446.49,328.92 L447.23,329.15 L447.97,329.36 L448.72,329.29 L449.46,329.08 L450.20,329.01 L450.94,329.10 L451.69,329.13 L452.43,329.01 L453.17,328.94 L453.91,329.18 L454.66,329.67 L455.40,330.05 L456.14,330.11 L456.88,330.02 L457.62,330.07 L458.37,330.27 L459.11,330.37 L459.85,330.28 L460.60,330.22 L461.34,330.59 L462.08,331.25 L462.82,331.75 L463.57,331.93 L464.31,332.08 L465.05,332.33 L465.79,332.55 L466.54,332.63 L467.28,332.77 L468.02,333.01 L468.76,333.35 L469.50,333.65 L470.25,333.81 L470.99,333.83 L471.73,333.81 L472.48,333.87 L473.22,333.96 L473.96,334.06 L474.70,334.13 L475.45,334.19 L476.19,334.20 L476.93,334.20 L477.67,334.20 L478.42,334.20 L479.16,334.20 L479.90,334.20 L480.64,334.20 L481.38,334.20 L482.13,334.20 L482.87,334.20 L483.61,334.20 L484.36,334.20 L485.10,334.20 L485.84,334.20 L486.58,334.20 L487.33,334.20 L488.07,334.20 L488.81,334.20 L489.55,334.20 L490.30,334.20 L491.04,334.20 L491.78,334.20 L492.52,334.20 L493.26,334.20 L494.01,334.20 L494.75,334.20 L495.49,334.20 L496.24,334.20 L496.98,334.20 L497.72,334.20 L498.46,334.20 L499.21,334.20 L499.95,334.20 L500.69,334.20 L501.43,334.20 L502.18,334.20 L502.92,334.20 L503.66,334.20 L504.40,334.20 L505.14,334.20 L505.89,334.20 L506.63,334.20 L507.37,334.20 L508.12,334.20 L508.86,334.20 L509.60,334.20 L509.60,334.2 L390.80,334.2 Z" fill="#84a2c0" stroke="none"/>
<path d="M390.80,334.20 L391.54,334.20 L392.29,334.20 L393.03,334.20 L393.77,334.19 L394.51,334.18 L395.25,334.15 L396.00,334.12 L396.74,334.07 L397.48,334.02 L398.23,333.98 L398.97,333.97 L399.71,333.95 L400.45,333.91 L401.19,333.84 L401.94,333.77 L402.68,333.74 L403.42,333.73 L404.17,333.70 L404.91,333.68 L405.65,333.68 L406.39,333.71 L407.13,333.71 L407.88,333.62 L408.62,333.48 L409.36,333.35 L410.11,333.29 L410.85,333.26 L411.59,333.19 L412.33,333.10 L413.07,333.09 L413.82,333.13 L414.56,333.14 L415.30,332.99 L416.05,332.77 L416.79,332.64 L417.53,332.67 L418.27,332.74 L419.01,332.74 L419.76,332.67 L420.50,332.62 L421.24,332.61 L421.99,332.49 L422.73,332.16 L423.47,331.72 L424.21,331.46 L424.96,331.47 L425.70,331.58 L426.44,331.55 L427.18,331.45 L427.93,331.48 L428.67,331.64 L429.41,331.61 L430.15,331.24 L430.90,330.77 L431.64,330.55 L432.38,330.62 L433.12,330.68 L433.87,330.49 L434.61,330.18 L435.35,329.98 L436.09,329.93 L436.84,329.81 L437.58,329.55 L438.32,329.42 L439.06,329.69 L439.81,330.26 L440.55,330.73 L441.29,330.79 L442.03,330.59 L442.78,330.39 L443.52,330.25 L444.26,329.95 L445.00,329.45 L445.75,329.01 L446.49,328.92 L447.23,329.15 L447.97,329.36 L448.72,329.29 L449.46,329.08 L450.20,329.01 L450.94,329.10 L451.69,329.13 L452.43,329.01 L453.17,328.94 L453.91,329.18 L454.66,329.67 L455.40,330.05 L456.14,330.11 L456.88,330.02 L457.62,330.07 L458.37,330.27 L459.11,330.37 L459.85,330.28 L460.60,330.22 L461.34,330.59 L462.08,331.25 L462.82,331.75 L463.57,331.93 L464.31,332.08 L465.05,332.33 L465.79,332.55 L466.54,332.63 L467.28,332.77 L468.02,333.01 L468.76,333.35 L469.50,333.65 L470.25,333.81 L470.99,333.83 L471.73,333.81 L472.48,333.87 L473.22,333.96 L473.96,334.06 L474.70,334.13 L475.45,334.19 L476.19,334.20 L476.93,334.20 L477.67,334.20 L478.42,334.20 L479.16,334.20 L479.90,334.20 L480.64,334.20 L481.38,334.20 L482.13,334.20 L482.87,334.20 L483.61,334.20 L484.36,334.20 L485.10,334.20 L485.84,334.20 L486.58,334.20 L487.33,334.20 L488.07,334.20 L488.81,334.20 L489.55,334.20 L490.30,334.20 L491.04,334.20 L491.78,334.20 L492.52,334.20 L493.26,334.20 L494.01,334.20 L494.75,334.20 L495.49,334.20 L496.24,334.20 L496.98,334.20 L497.72,334.20 L498.46,334.20 L499.21,334.20 L499.95,334.20 L500.69,334.20 L501.43,334.20 L502.18,334.20 L502.92,334.20 L503.66,334.20 L504.40,334.20 L505.14,334.20 L505.89,334.20 L506.63,334.20 L507.37,334.20 L508.12,334.20 L508.86,334.20 L509.60,334.20" fill="none" stroke="#235d92" stroke-width="1.25" stroke-linejoin="round"/>
<path d="M390.80,357.70 L391.30,357.70 L391.80,357.70 L392.30,357.70 L392.80,357.70 L393.30,357.70 L393.80,357.70 L394.30,357.70 L394.80,357.70 L395.30,357.69 L395.80,357.69 L396.30,357.68 L396.80,357.66 L397.30,357.62 L397.80,357.57 L398.30,357.48 L398.80,357.34 L399.30,357.12 L399.80,356.81 L400.30,356.37 L400.80,355.77 L401.30,354.97 L401.80,353.94 L402.30,352.66 L402.80,351.14 L403.30,349.40 L403.80,347.47 L404.30,345.45 L404.80,343.43 L405.30,341.53 L405.80,339.87 L406.30,338.59 L406.80,337.78 L407.30,337.50 L407.80,337.69 L408.30,338.26 L408.80,339.18 L409.30,340.39 L409.80,341.83 L410.30,343.43 L410.80,345.11 L411.30,346.80 L411.80,348.45 L412.30,350.00 L412.80,351.41 L413.30,352.66 L413.80,353.74 L414.30,354.65 L414.80,355.39 L415.30,355.99 L415.80,356.46 L416.30,356.81 L416.80,357.08 L417.30,357.27 L417.80,357.41 L418.30,357.51 L418.80,357.58 L419.30,357.62 L419.80,357.65 L420.30,357.67 L420.80,357.68 L421.30,357.69 L421.80,357.69 L422.30,357.70 L422.80,357.70 L423.30,357.70 L423.80,357.70 L424.30,357.70 L424.80,357.70 L425.30,357.70 L425.80,357.70 L426.30,357.70 L426.80,357.70 L427.30,357.70 L427.80,357.70 L428.30,357.70 L428.80,357.70 L429.30,357.70 L429.80,357.70 L430.30,357.70 L430.80,357.70 L431.30,357.70 L431.80,357.70 L432.30,357.70 L432.80,357.70 L433.30,357.70 L433.80,357.70 L434.30,357.70 L434.80,357.70 L435.30,357.70 L435.80,357.70 L436.30,357.70 L436.80,357.70 L437.30,357.70 L437.80,357.70 L438.30,357.70 L438.80,357.70 L439.30,357.70 L439.80,357.70 L440.30,357.70 L440.80,357.70 L441.30,357.70 L441.80,357.70 L442.30,357.70 L442.80,357.70 L443.30,357.70 L443.80,357.70 L444.30,357.70 L444.80,357.70 L445.30,357.70 L445.80,357.70 L446.30,357.70 L446.80,357.70 L447.30,357.70 L447.80,357.70 L448.30,357.70 L448.80,357.70 L449.30,357.70 L449.80,357.70 L450.30,357.70 L450.80,357.70 L451.30,357.70 L451.80,357.70 L452.30,357.70 L452.80,357.70 L453.30,357.70 L453.80,357.70 L454.30,357.70 L454.80,357.70 L455.30,357.70 L455.80,357.70 L456.30,357.70 L456.80,357.70 L457.30,357.70 L457.80,357.70 L458.30,357.70 L458.80,357.70 L459.30,357.70 L459.80,357.70 L460.30,357.70 L460.80,357.70 L461.30,357.70 L461.80,357.70 L462.30,357.70 L462.80,357.70 L463.30,357.70 L463.80,357.70 L464.30,357.70 L464.80,357.70 L465.30,357.70 L465.80,357.70 L466.30,357.70 L466.80,357.70 L467.30,357.70 L467.80,357.70 L468.30,357.70 L468.80,357.70 L469.30,357.70 L469.80,357.70 L470.30,357.70 L470.80,357.70 L471.30,357.70 L471.80,357.70 L472.30,357.70 L472.80,357.70 L473.30,357.70 L473.80,357.70 L474.30,357.70 L474.80,357.70 L475.30,357.70 L475.80,357.70 L476.30,357.70 L476.80,357.70 L477.30,357.70 L477.80,357.70 L478.30,357.70 L478.80,357.70 L479.30,357.70 L479.80,357.70 L480.30,357.70 L480.80,357.70 L481.30,357.70 L481.80,357.70 L482.30,357.70 L482.80,357.70 L483.30,357.70 L483.80,357.70 L484.30,357.70 L484.80,357.70 L485.30,357.70 L485.80,357.70 L486.30,357.70 L486.80,357.70 L487.30,357.70 L487.80,357.70 L488.30,357.70 L488.80,357.70 L489.30,357.70 L489.80,357.70 L490.30,357.70 L490.80,357.70 L491.30,357.70 L491.80,357.70 L492.30,357.70 L492.80,357.70 L493.30,357.70 L493.80,357.70 L494.30,357.70 L494.80,357.70 L495.30,357.70 L495.80,357.70 L496.30,357.70 L496.80,357.70 L497.30,357.70 L497.80,357.70 L498.30,357.70 L498.80,357.70 L499.30,357.70 L499.80,357.70 L500.30,357.70 L500.80,357.70 L501.30,357.70 L501.80,357.70 L502.30,357.70 L502.80,357.70 L503.30,357.70 L503.80,357.70 L504.30,357.70 L504.80,357.70 L505.30,357.70 L505.80,357.70 L506.30,357.70 L506.80,357.70 L507.30,357.70 L507.80,357.70 L508.30,357.70 L508.80,357.70 L509.60,357.70 L509.60,357.7 L390.80,357.7 Z" fill="#a886bd" stroke="none"/>
<path d="M390.80,357.70 L391.30,357.70 L391.80,357.70 L392.30,357.70 L392.80,357.70 L393.30,357.70 L393.80,357.70 L394.30,357.70 L394.80,357.70 L395.30,357.69 L395.80,357.69 L396.30,357.68 L396.80,357.66 L397.30,357.62 L397.80,357.57 L398.30,357.48 L398.80,357.34 L399.30,357.12 L399.80,356.81 L400.30,356.37 L400.80,355.77 L401.30,354.97 L401.80,353.94 L402.30,352.66 L402.80,351.14 L403.30,349.40 L403.80,347.47 L404.30,345.45 L404.80,343.43 L405.30,341.53 L405.80,339.87 L406.30,338.59 L406.80,337.78 L407.30,337.50 L407.80,337.69 L408.30,338.26 L408.80,339.18 L409.30,340.39 L409.80,341.83 L410.30,343.43 L410.80,345.11 L411.30,346.80 L411.80,348.45 L412.30,350.00 L412.80,351.41 L413.30,352.66 L413.80,353.74 L414.30,354.65 L414.80,355.39 L415.30,355.99 L415.80,356.46 L416.30,356.81 L416.80,357.08 L417.30,357.27 L417.80,357.41 L418.30,357.51 L418.80,357.58 L419.30,357.62 L419.80,357.65 L420.30,357.67 L420.80,357.68 L421.30,357.69 L421.80,357.69 L422.30,357.70 L422.80,357.70 L423.30,357.70 L423.80,357.70 L424.30,357.70 L424.80,357.70 L425.30,357.70 L425.80,357.70 L426.30,357.70 L426.80,357.70 L427.30,357.70 L427.80,357.70 L428.30,357.70 L428.80,357.70 L429.30,357.70 L429.80,357.70 L430.30,357.70 L430.80,357.70 L431.30,357.70 L431.80,357.70 L432.30,357.70 L432.80,357.70 L433.30,357.70 L433.80,357.70 L434.30,357.70 L434.80,357.70 L435.30,357.70 L435.80,357.70 L436.30,357.70 L436.80,357.70 L437.30,357.70 L437.80,357.70 L438.30,357.70 L438.80,357.70 L439.30,357.70 L439.80,357.70 L440.30,357.70 L440.80,357.70 L441.30,357.70 L441.80,357.70 L442.30,357.70 L442.80,357.70 L443.30,357.70 L443.80,357.70 L444.30,357.70 L444.80,357.70 L445.30,357.70 L445.80,357.70 L446.30,357.70 L446.80,357.70 L447.30,357.70 L447.80,357.70 L448.30,357.70 L448.80,357.70 L449.30,357.70 L449.80,357.70 L450.30,357.70 L450.80,357.70 L451.30,357.70 L451.80,357.70 L452.30,357.70 L452.80,357.70 L453.30,357.70 L453.80,357.70 L454.30,357.70 L454.80,357.70 L455.30,357.70 L455.80,357.70 L456.30,357.70 L456.80,357.70 L457.30,357.70 L457.80,357.70 L458.30,357.70 L458.80,357.70 L459.30,357.70 L459.80,357.70 L460.30,357.70 L460.80,357.70 L461.30,357.70 L461.80,357.70 L462.30,357.70 L462.80,357.70 L463.30,357.70 L463.80,357.70 L464.30,357.70 L464.80,357.70 L465.30,357.70 L465.80,357.70 L466.30,357.70 L466.80,357.70 L467.30,357.70 L467.80,357.70 L468.30,357.70 L468.80,357.70 L469.30,357.70 L469.80,357.70 L470.30,357.70 L470.80,357.70 L471.30,357.70 L471.80,357.70 L472.30,357.70 L472.80,357.70 L473.30,357.70 L473.80,357.70 L474.30,357.70 L474.80,357.70 L475.30,357.70 L475.80,357.70 L476.30,357.70 L476.80,357.70 L477.30,357.70 L477.80,357.70 L478.30,357.70 L478.80,357.70 L479.30,357.70 L479.80,357.70 L480.30,357.70 L480.80,357.70 L481.30,357.70 L481.80,357.70 L482.30,357.70 L482.80,357.70 L483.30,357.70 L483.80,357.70 L484.30,357.70 L484.80,357.70 L485.30,357.70 L485.80,357.70 L486.30,357.70 L486.80,357.70 L487.30,357.70 L487.80,357.70 L488.30,357.70 L488.80,357.70 L489.30,357.70 L489.80,357.70 L490.30,357.70 L490.80,357.70 L491.30,357.70 L491.80,357.70 L492.30,357.70 L492.80,357.70 L493.30,357.70 L493.80,357.70 L494.30,357.70 L494.80,357.70 L495.30,357.70 L495.80,357.70 L496.30,357.70 L496.80,357.70 L497.30,357.70 L497.80,357.70 L498.30,357.70 L498.80,357.70 L499.30,357.70 L499.80,357.70 L500.30,357.70 L500.80,357.70 L501.30,357.70 L501.80,357.70 L502.30,357.70 L502.80,357.70 L503.30,357.70 L503.80,357.70 L504.30,357.70 L504.80,357.70 L505.30,357.70 L505.80,357.70 L506.30,357.70 L506.80,357.70 L507.30,357.70 L507.80,357.70 L508.30,357.70 L508.80,357.70 L509.60,357.70" fill="none" stroke="#633785" stroke-width="1.25" stroke-linejoin="round"/>
<rect x="93.3" y="239.7" width="118.50" height="118.00" fill="none" stroke="#000" stroke-width="1.4"/>
<rect x="242" y="239.2" width="118.90" height="118.10" fill="none" stroke="#000" stroke-width="1.4"/>
<rect x="390.8" y="239.8" width="118.80" height="117.90" fill="none" stroke="#000" stroke-width="1.4"/>
<path d="M95.00,358.3 v2.55 M96.65,358.3 v2.55 M98.30,358.3 v2.55 M99.95,358.3 v2.55 M101.60,358.3 v2.55 M103.25,358.3 v2.55 M104.90,358.3 v2.55 M106.55,358.3 v2.55 M108.20,358.3 v2.55 M109.85,358.3 v2.55 M111.50,358.3 v2.55 M113.15,358.3 v2.55 M114.80,358.3 v2.55 M116.45,358.3 v2.55 M118.10,358.3 v2.55 M106.30,358.3 v3.40 M125.00,358.3 v2.55 M128.50,358.3 v2.55 M131.40,358.3 v2.55 M134.30,358.3 v2.55 M136.60,358.3 v2.55 M138.90,358.3 v2.55 M141.20,358.3 v2.55 M142.90,358.3 v2.55 M144.50,358.3 v2.55 M146.30,358.3 v3.57 M154.34,358.3 v2.55 M159.04,358.3 v2.55 M162.38,358.3 v2.55 M164.96,358.3 v2.55 M167.08,358.3 v2.55 M168.86,358.3 v2.55 M170.41,358.3 v2.55 M171.78,358.3 v2.55 M173.00,358.3 v3.57 M181.04,358.3 v2.55 M185.74,358.3 v2.55 M189.08,358.3 v2.55 M191.66,358.3 v2.55 M193.78,358.3 v2.55 M195.56,358.3 v2.55 M197.11,358.3 v2.55 M198.48,358.3 v2.55 M199.70,358.3 v3.57 M207.74,358.3 v2.55" stroke="#0a0a0a" stroke-width="0.85" fill="none"/>
<text x="106.30" y="373.60" font-size="9.6" fill="#0a0a0a" font-weight="normal" font-style="normal" text-anchor="middle" stroke="#0a0a0a" stroke-width="0.24">0</text>
<text x="145.55" y="373.6" font-size="9.6" fill="#0a0a0a" stroke="#0a0a0a" stroke-width="0.24" text-anchor="middle">10<tspan dx="0.6" dy="-4.3" font-size="6.6">3</tspan></text>
<text x="173.70" y="373.6" font-size="9.6" fill="#0a0a0a" stroke="#0a0a0a" stroke-width="0.24" text-anchor="middle">10<tspan dx="0.6" dy="-4.3" font-size="6.6">4</tspan></text>
<text x="200.50" y="373.6" font-size="9.6" fill="#0a0a0a" stroke="#0a0a0a" stroke-width="0.24" text-anchor="middle">10<tspan dx="0.6" dy="-4.3" font-size="6.6">5</tspan></text>
<path d="M243.70,357.90000000000003 v2.55 M245.35,357.90000000000003 v2.55 M247.00,357.90000000000003 v2.55 M248.65,357.90000000000003 v2.55 M250.30,357.90000000000003 v2.55 M251.95,357.90000000000003 v2.55 M253.60,357.90000000000003 v2.55 M255.25,357.90000000000003 v2.55 M256.90,357.90000000000003 v2.55 M258.55,357.90000000000003 v2.55 M260.20,357.90000000000003 v2.55 M261.85,357.90000000000003 v2.55 M263.50,357.90000000000003 v2.55 M265.15,357.90000000000003 v2.55 M266.80,357.90000000000003 v2.55 M255.00,357.90000000000003 v3.40 M273.70,357.90000000000003 v2.55 M277.20,357.90000000000003 v2.55 M280.10,357.90000000000003 v2.55 M283.00,357.90000000000003 v2.55 M285.30,357.90000000000003 v2.55 M287.60,357.90000000000003 v2.55 M289.90,357.90000000000003 v2.55 M291.60,357.90000000000003 v2.55 M293.20,357.90000000000003 v2.55 M295.00,357.90000000000003 v3.57 M303.04,357.90000000000003 v2.55 M307.74,357.90000000000003 v2.55 M311.08,357.90000000000003 v2.55 M313.66,357.90000000000003 v2.55 M315.78,357.90000000000003 v2.55 M317.56,357.90000000000003 v2.55 M319.11,357.90000000000003 v2.55 M320.48,357.90000000000003 v2.55 M321.70,357.90000000000003 v3.57 M329.74,357.90000000000003 v2.55 M334.44,357.90000000000003 v2.55 M337.78,357.90000000000003 v2.55 M340.36,357.90000000000003 v2.55 M342.48,357.90000000000003 v2.55 M344.26,357.90000000000003 v2.55 M345.81,357.90000000000003 v2.55 M347.18,357.90000000000003 v2.55 M348.40,357.90000000000003 v3.57 M356.44,357.90000000000003 v2.55" stroke="#0a0a0a" stroke-width="0.85" fill="none"/>
<text x="255.00" y="373.60" font-size="9.6" fill="#0a0a0a" font-weight="normal" font-style="normal" text-anchor="middle" stroke="#0a0a0a" stroke-width="0.24">0</text>
<text x="294.25" y="373.6" font-size="9.6" fill="#0a0a0a" stroke="#0a0a0a" stroke-width="0.24" text-anchor="middle">10<tspan dx="0.6" dy="-4.3" font-size="6.6">3</tspan></text>
<text x="322.40" y="373.6" font-size="9.6" fill="#0a0a0a" stroke="#0a0a0a" stroke-width="0.24" text-anchor="middle">10<tspan dx="0.6" dy="-4.3" font-size="6.6">4</tspan></text>
<text x="349.20" y="373.6" font-size="9.6" fill="#0a0a0a" stroke="#0a0a0a" stroke-width="0.24" text-anchor="middle">10<tspan dx="0.6" dy="-4.3" font-size="6.6">5</tspan></text>
<path d="M392.50,358.3 v2.55 M394.15,358.3 v2.55 M395.80,358.3 v2.55 M397.45,358.3 v2.55 M399.10,358.3 v2.55 M400.75,358.3 v2.55 M402.40,358.3 v2.55 M404.05,358.3 v2.55 M405.70,358.3 v2.55 M407.35,358.3 v2.55 M409.00,358.3 v2.55 M410.65,358.3 v2.55 M412.30,358.3 v2.55 M413.95,358.3 v2.55 M415.60,358.3 v2.55 M403.80,358.3 v3.40 M422.50,358.3 v2.55 M426.00,358.3 v2.55 M428.90,358.3 v2.55 M431.80,358.3 v2.55 M434.10,358.3 v2.55 M436.40,358.3 v2.55 M438.70,358.3 v2.55 M440.40,358.3 v2.55 M442.00,358.3 v2.55 M443.80,358.3 v3.57 M451.84,358.3 v2.55 M456.54,358.3 v2.55 M459.88,358.3 v2.55 M462.46,358.3 v2.55 M464.58,358.3 v2.55 M466.36,358.3 v2.55 M467.91,358.3 v2.55 M469.28,358.3 v2.55 M470.50,358.3 v3.57 M478.54,358.3 v2.55 M483.24,358.3 v2.55 M486.58,358.3 v2.55 M489.16,358.3 v2.55 M491.28,358.3 v2.55 M493.06,358.3 v2.55 M494.61,358.3 v2.55 M495.98,358.3 v2.55 M497.20,358.3 v3.57 M505.24,358.3 v2.55" stroke="#0a0a0a" stroke-width="0.85" fill="none"/>
<text x="403.80" y="373.60" font-size="9.6" fill="#0a0a0a" font-weight="normal" font-style="normal" text-anchor="middle" stroke="#0a0a0a" stroke-width="0.24">0</text>
<text x="443.05" y="373.6" font-size="9.6" fill="#0a0a0a" stroke="#0a0a0a" stroke-width="0.24" text-anchor="middle">10<tspan dx="0.6" dy="-4.3" font-size="6.6">3</tspan></text>
<text x="471.20" y="373.6" font-size="9.6" fill="#0a0a0a" stroke="#0a0a0a" stroke-width="0.24" text-anchor="middle">10<tspan dx="0.6" dy="-4.3" font-size="6.6">4</tspan></text>
<text x="498.00" y="373.6" font-size="9.6" fill="#0a0a0a" stroke="#0a0a0a" stroke-width="0.24" text-anchor="middle">10<tspan dx="0.6" dy="-4.3" font-size="6.6">5</tspan></text>
<text x="142.60" y="254.70" font-size="9.6" fill="#c81538" font-weight="normal" font-style="normal" text-anchor="start" textLength="23.90" lengthAdjust="spacingAndGlyphs" stroke="#c81538" stroke-width="0.1">1,220</text>
<text x="147.70" y="277.80" font-size="9.6" fill="#44ad4a" font-weight="normal" font-style="normal" text-anchor="start" textLength="23.60" lengthAdjust="spacingAndGlyphs" stroke="#44ad4a" stroke-width="0.1">1,760</text>
<text x="131.40" y="303.40" font-size="9.6" fill="#f69a2c" font-weight="normal" font-style="normal" text-anchor="start" textLength="17.00" lengthAdjust="spacingAndGlyphs" stroke="#f69a2c" stroke-width="0.1">555</text>
<text x="124.10" y="326.30" font-size="9.6" fill="#235d92" font-weight="normal" font-style="normal" text-anchor="start" textLength="17.00" lengthAdjust="spacingAndGlyphs" stroke="#235d92" stroke-width="0.1">419</text>
<text x="98.00" y="346.80" font-size="9.6" fill="#633785" font-weight="normal" font-style="normal" text-anchor="start" textLength="9.80" lengthAdjust="spacingAndGlyphs" stroke="#633785" stroke-width="0.1">74</text>
<text x="265.40" y="249.80" font-size="9.4" fill="#c81538" font-weight="normal" font-style="normal" text-anchor="start" textLength="11.90" lengthAdjust="spacingAndGlyphs" stroke="#c81538" stroke-width="0.1">30</text>
<text x="254.00" y="274.70" font-size="9.4" fill="#44ad4a" font-weight="normal" font-style="normal" text-anchor="start" textLength="16.50" lengthAdjust="spacingAndGlyphs" stroke="#44ad4a" stroke-width="0.1">113</text>
<text x="317.70" y="300.70" font-size="9.2" fill="#f69a2c" font-weight="normal" font-style="normal" text-anchor="start" textLength="24.20" lengthAdjust="spacingAndGlyphs" stroke="#f69a2c" stroke-width="0.1">9,871</text>
<text x="309.90" y="322.80" font-size="9.4" fill="#235d92" font-weight="normal" font-style="normal" text-anchor="start" textLength="21.90" lengthAdjust="spacingAndGlyphs" stroke="#235d92" stroke-width="0.1">7,780</text>
<text x="243.70" y="342.50" font-size="9.2" fill="#633785" font-weight="normal" font-style="normal" text-anchor="start" textLength="11.20" lengthAdjust="spacingAndGlyphs" stroke="#633785" stroke-width="0.1">40</text>
<text x="439.00" y="253.90" font-size="9.6" fill="#c81538" font-weight="normal" font-style="normal" text-anchor="start" textLength="25.00" lengthAdjust="spacingAndGlyphs" stroke="#c81538" stroke-width="0.1">1,402</text>
<text x="439.60" y="276.60" font-size="9.6" fill="#44ad4a" font-weight="normal" font-style="normal" text-anchor="start" textLength="24.40" lengthAdjust="spacingAndGlyphs" stroke="#44ad4a" stroke-width="0.1">1,422</text>
<text x="442.90" y="300.10" font-size="9.6" fill="#f69a2c" font-weight="normal" font-style="normal" text-anchor="start" textLength="24.00" lengthAdjust="spacingAndGlyphs" stroke="#f69a2c" stroke-width="0.1">1,760</text>
<text x="436.70" y="325.10" font-size="9.6" fill="#235d92" font-weight="normal" font-style="normal" text-anchor="start" textLength="24.50" lengthAdjust="spacingAndGlyphs" stroke="#235d92" stroke-width="0.1">1,266</text>
<text x="392.40" y="342.70" font-size="9.2" fill="#633785" font-weight="normal" font-style="normal" text-anchor="start" textLength="10.80" lengthAdjust="spacingAndGlyphs" stroke="#633785" stroke-width="0.1">30</text>
<text x="243.00" y="390.50" font-size="12.5" fill="#0a0a0a" font-weight="normal" font-style="normal" text-anchor="start" textLength="116.75" lengthAdjust="spacingAndGlyphs" stroke="#0a0a0a" stroke-width="0.6">Median fluorescence intensity</text>
<rect x="182" y="402.5" width="8.75" height="8.75" fill="#0f4f85"/>
<text x="195.50" y="410.50" font-size="10.3" fill="#0a0a0a" font-weight="normal" font-style="normal" text-anchor="start" textLength="34.50" lengthAdjust="spacingAndGlyphs" stroke="#0a0a0a" stroke-width="0.24">GlcNAc</text>
<circle cx="245.75" cy="406.8" r="4.6" fill="#0f4f85"/>
<text x="255.00" y="410.50" font-size="10.3" fill="#0a0a0a" font-weight="normal" font-style="normal" text-anchor="start" textLength="15.00" lengthAdjust="spacingAndGlyphs" stroke="#0a0a0a" stroke-width="0.24">Glc</text>
<rect x="286.25" y="402.5" width="8.75" height="8.75" fill="#f8b51e"/>
<text x="300.00" y="410.50" font-size="10.3" fill="#0a0a0a" font-weight="normal" font-style="normal" text-anchor="start" textLength="33.75" lengthAdjust="spacingAndGlyphs" stroke="#0a0a0a" stroke-width="0.24">GalNAc</text>
<circle cx="354.25" cy="406.8" r="4.6" fill="#f8b51e"/>
<text x="363.25" y="410.50" font-size="10.3" fill="#0a0a0a" font-weight="normal" font-style="normal" text-anchor="start" textLength="15.00" lengthAdjust="spacingAndGlyphs" stroke="#0a0a0a" stroke-width="0.24">Gal</text>
<polygon points="390.1,406.8 396.6,400.2 403.1,406.8 396.6,413.40000000000003" fill="#c8102e"/>
<text x="407.10" y="410.30" font-size="10.3" fill="#0a0a0a" font-weight="normal" font-style="normal" text-anchor="start" textLength="13.50" lengthAdjust="spacingAndGlyphs" stroke="#0a0a0a" stroke-width="0.24">Sia</text></svg>
</body></html>
